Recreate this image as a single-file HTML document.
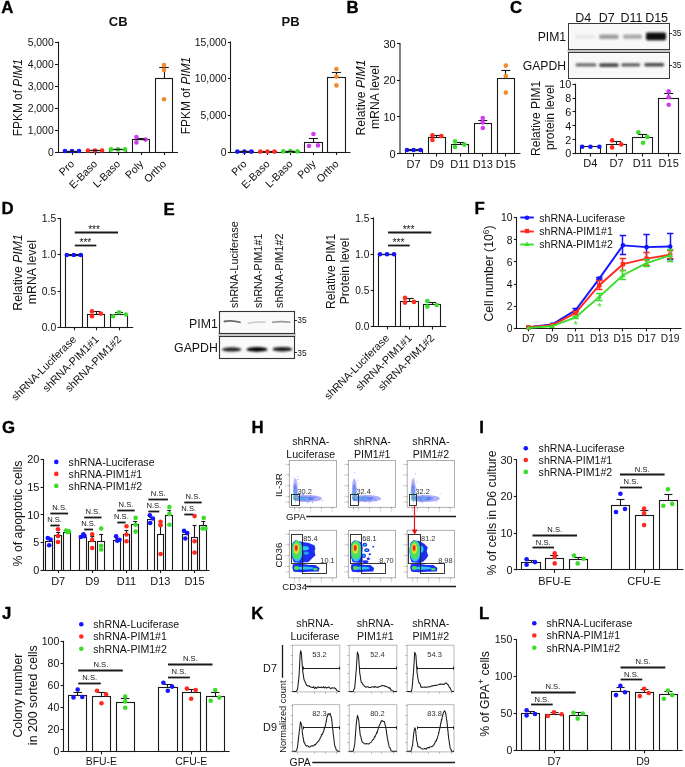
<!DOCTYPE html>
<html><head><meta charset="utf-8"><style>
html,body{margin:0;padding:0;background:#fff;}
body{width:685px;height:767px;overflow:hidden;}
svg{display:block;font-family:"Liberation Sans",sans-serif;will-change:transform;}
</style></head><body>
<svg width="685" height="767" viewBox="0 0 685 767" font-family="Liberation Sans, sans-serif" fill="#121212">
<defs>
<filter id="bl1" x="-50%" y="-50%" width="200%" height="200%"><feGaussianBlur stdDeviation="0.9"/></filter>
<filter id="bl2" x="-50%" y="-50%" width="200%" height="200%"><feGaussianBlur stdDeviation="1.4"/></filter>
<filter id="bl3" x="-50%" y="-50%" width="200%" height="200%"><feGaussianBlur stdDeviation="0.6"/></filter>
</defs>
<rect width="685" height="767" fill="#fff"/>
<text x="1.3" y="12.6" font-size="16.8" font-weight="bold" fill="#000" stroke="#000" stroke-width="0.35">A</text>
<text x="118.2" y="25.8" font-size="13" text-anchor="middle" font-weight="bold">CB</text>
<line x1="58.5" y1="41.5" x2="58.5" y2="152.5" stroke="#1a1a1a" stroke-width="1.1"/>
<line x1="55" y1="42.5" x2="58" y2="42.5" stroke="#1a1a1a" stroke-width="1.1"/>
<text x="53.7" y="45.74" font-size="10.4" text-anchor="end">5,000</text>
<line x1="55" y1="64.5" x2="58" y2="64.5" stroke="#1a1a1a" stroke-width="1.1"/>
<text x="53.7" y="67.74" font-size="10.4" text-anchor="end">4,000</text>
<line x1="55" y1="86.5" x2="58" y2="86.5" stroke="#1a1a1a" stroke-width="1.1"/>
<text x="53.7" y="89.74" font-size="10.4" text-anchor="end">3,000</text>
<line x1="55" y1="108.5" x2="58" y2="108.5" stroke="#1a1a1a" stroke-width="1.1"/>
<text x="53.7" y="111.74" font-size="10.4" text-anchor="end">2,000</text>
<line x1="55" y1="130.5" x2="58" y2="130.5" stroke="#1a1a1a" stroke-width="1.1"/>
<text x="53.7" y="133.74" font-size="10.4" text-anchor="end">1,000</text>
<line x1="55" y1="152.5" x2="58" y2="152.5" stroke="#1a1a1a" stroke-width="1.1"/>
<text x="53.7" y="155.74" font-size="10.4" text-anchor="end">0</text>
<line x1="57.5" y1="152.5" x2="178" y2="152.5" stroke="#1a1a1a" stroke-width="1.1"/>
<line x1="72.5" y1="152" x2="72.5" y2="155" stroke="#1a1a1a" stroke-width="1.1"/>
<line x1="95.5" y1="152" x2="95.5" y2="155" stroke="#1a1a1a" stroke-width="1.1"/>
<line x1="118.5" y1="152" x2="118.5" y2="155" stroke="#1a1a1a" stroke-width="1.1"/>
<line x1="141.5" y1="152" x2="141.5" y2="155" stroke="#1a1a1a" stroke-width="1.1"/>
<line x1="164.5" y1="152" x2="164.5" y2="155" stroke="#1a1a1a" stroke-width="1.1"/>
<text x="22.4" y="97.6" font-size="11.9" text-anchor="middle" transform="rotate(-90 22.4 97.6)">FPKM of <tspan font-style="italic">PIM1</tspan></text>
<rect x="63.5" y="151.5" width="17" height="1" fill="#fff" stroke="#1a1a1a" stroke-width="1.1"/>
<rect x="86.5" y="150.5" width="17" height="2" fill="#fff" stroke="#1a1a1a" stroke-width="1.1"/>
<rect x="109.5" y="149.5" width="17" height="3" fill="#fff" stroke="#1a1a1a" stroke-width="1.1"/>
<rect x="132.5" y="139.5" width="17" height="13" fill="#fff" stroke="#1a1a1a" stroke-width="1.1"/>
<rect x="155.5" y="78.5" width="17" height="74" fill="#fff" stroke="#1a1a1a" stroke-width="1.1"/>
<line x1="164.5" y1="78.6" x2="164.5" y2="67.4" stroke="#1a1a1a" stroke-width="1.1"/>
<line x1="159.25" y1="67.5" x2="168.75" y2="67.5" stroke="#1a1a1a" stroke-width="1.1"/>
<line x1="141.5" y1="139.6" x2="141.5" y2="138" stroke="#1a1a1a" stroke-width="1.1"/>
<line x1="136.5" y1="138.5" x2="145.5" y2="138.5" stroke="#1a1a1a" stroke-width="1.1"/>
<circle cx="65" cy="151" r="2.3" fill="#1414ff"/>
<circle cx="72" cy="151" r="2.3" fill="#1414ff"/>
<circle cx="79" cy="151" r="2.3" fill="#1414ff"/>
<circle cx="88" cy="150.5" r="2.3" fill="#ff2a1f"/>
<circle cx="95" cy="150.5" r="2.3" fill="#ff2a1f"/>
<circle cx="102" cy="150.5" r="2.3" fill="#ff2a1f"/>
<circle cx="111" cy="149.4" r="2.3" fill="#3cdc2c"/>
<circle cx="118" cy="149.4" r="2.3" fill="#3cdc2c"/>
<circle cx="125" cy="149.4" r="2.3" fill="#3cdc2c"/>
<circle cx="136.4" cy="137" r="2.3" fill="#d23cf0"/>
<circle cx="136.4" cy="142.4" r="2.3" fill="#d23cf0"/>
<circle cx="145.6" cy="139.6" r="2.3" fill="#d23cf0"/>
<circle cx="164" cy="65.1" r="2.3" fill="#f2892a"/>
<circle cx="164" cy="69.9" r="2.3" fill="#f2892a"/>
<circle cx="164" cy="99.3" r="2.3" fill="#f2892a"/>
<line x1="67.5" y1="151.5" x2="76.5" y2="151.5" stroke="#1a1a1a" stroke-width="1.3"/>
<line x1="90.5" y1="150.5" x2="99.5" y2="150.5" stroke="#1a1a1a" stroke-width="1.3"/>
<line x1="113.5" y1="149.5" x2="122.5" y2="149.5" stroke="#1a1a1a" stroke-width="1.3"/>
<line x1="136.5" y1="139.5" x2="145.5" y2="139.5" stroke="#1a1a1a" stroke-width="1.3"/>
<text x="75" y="164.6" font-size="10.6" text-anchor="end" transform="rotate(-45 75 164.6)">Pro</text>
<text x="98" y="164.6" font-size="10.6" text-anchor="end" transform="rotate(-45 98 164.6)">E-Baso</text>
<text x="121" y="164.6" font-size="10.6" text-anchor="end" transform="rotate(-45 121 164.6)">L-Baso</text>
<text x="144" y="164.6" font-size="10.6" text-anchor="end" transform="rotate(-45 144 164.6)">Poly</text>
<text x="167" y="164.6" font-size="10.6" text-anchor="end" transform="rotate(-45 167 164.6)">Ortho</text>
<text x="290.5" y="26.4" font-size="13" text-anchor="middle" font-weight="bold">PB</text>
<line x1="230.5" y1="41.5" x2="230.5" y2="152.5" stroke="#1a1a1a" stroke-width="1.1"/>
<line x1="227.9" y1="42.5" x2="230.9" y2="42.5" stroke="#1a1a1a" stroke-width="1.1"/>
<text x="226.6" y="45.74" font-size="10.4" text-anchor="end">15,000</text>
<line x1="227.9" y1="78.5" x2="230.9" y2="78.5" stroke="#1a1a1a" stroke-width="1.1"/>
<text x="226.6" y="82.41" font-size="10.4" text-anchor="end">10,000</text>
<line x1="227.9" y1="115.5" x2="230.9" y2="115.5" stroke="#1a1a1a" stroke-width="1.1"/>
<text x="226.6" y="119.07" font-size="10.4" text-anchor="end">5,000</text>
<line x1="227.9" y1="152.5" x2="230.9" y2="152.5" stroke="#1a1a1a" stroke-width="1.1"/>
<text x="226.6" y="155.74" font-size="10.4" text-anchor="end">0</text>
<line x1="230.4" y1="152.5" x2="350.5" y2="152.5" stroke="#1a1a1a" stroke-width="1.1"/>
<line x1="244.5" y1="152" x2="244.5" y2="155" stroke="#1a1a1a" stroke-width="1.1"/>
<line x1="267.5" y1="152" x2="267.5" y2="155" stroke="#1a1a1a" stroke-width="1.1"/>
<line x1="290.5" y1="152" x2="290.5" y2="155" stroke="#1a1a1a" stroke-width="1.1"/>
<line x1="313.5" y1="152" x2="313.5" y2="155" stroke="#1a1a1a" stroke-width="1.1"/>
<line x1="336.5" y1="152" x2="336.5" y2="155" stroke="#1a1a1a" stroke-width="1.1"/>
<text x="189.9" y="95.5" font-size="11.9" text-anchor="middle" transform="rotate(-90 189.9 95.5)">FPKM of <tspan font-style="italic">PIM1</tspan></text>
<rect x="235.5" y="151.5" width="18" height="1" fill="#fff" stroke="#1a1a1a" stroke-width="1.1"/>
<rect x="258.5" y="151.5" width="18" height="1" fill="#fff" stroke="#1a1a1a" stroke-width="1.1"/>
<rect x="281.5" y="151.5" width="18" height="1" fill="#fff" stroke="#1a1a1a" stroke-width="1.1"/>
<rect x="304.5" y="142.5" width="18" height="10" fill="#fff" stroke="#1a1a1a" stroke-width="1.1"/>
<rect x="327.5" y="77.5" width="18" height="75" fill="#fff" stroke="#1a1a1a" stroke-width="1.1"/>
<line x1="313.5" y1="142.4" x2="313.5" y2="138" stroke="#1a1a1a" stroke-width="1.1"/>
<line x1="308.9" y1="138.5" x2="317.9" y2="138.5" stroke="#1a1a1a" stroke-width="1.1"/>
<line x1="336.5" y1="77.4" x2="336.5" y2="72.2" stroke="#1a1a1a" stroke-width="1.1"/>
<line x1="331.9" y1="72.5" x2="340.9" y2="72.5" stroke="#1a1a1a" stroke-width="1.1"/>
<circle cx="237.4" cy="151.6" r="2.3" fill="#1414ff"/>
<circle cx="244.4" cy="151.6" r="2.3" fill="#1414ff"/>
<circle cx="251.4" cy="151.6" r="2.3" fill="#1414ff"/>
<circle cx="260.4" cy="151.6" r="2.3" fill="#ff2a1f"/>
<circle cx="267.4" cy="151.6" r="2.3" fill="#ff2a1f"/>
<circle cx="274.4" cy="151.6" r="2.3" fill="#ff2a1f"/>
<circle cx="283.4" cy="151.4" r="2.3" fill="#3cdc2c"/>
<circle cx="290.4" cy="151" r="2.3" fill="#3cdc2c"/>
<circle cx="297.4" cy="151.4" r="2.3" fill="#3cdc2c"/>
<circle cx="309" cy="146" r="2.3" fill="#d23cf0"/>
<circle cx="313.4" cy="134" r="2.3" fill="#d23cf0"/>
<circle cx="318" cy="145.4" r="2.3" fill="#d23cf0"/>
<circle cx="336.4" cy="69" r="2.3" fill="#f2892a"/>
<circle cx="336.4" cy="76.6" r="2.3" fill="#f2892a"/>
<circle cx="336.4" cy="85.4" r="2.3" fill="#f2892a"/>
<line x1="239.9" y1="151.5" x2="248.9" y2="151.5" stroke="#1a1a1a" stroke-width="1.3"/>
<line x1="285.9" y1="151.5" x2="294.9" y2="151.5" stroke="#1a1a1a" stroke-width="1.3"/>
<text x="247.4" y="164.6" font-size="10.6" text-anchor="end" transform="rotate(-45 247.4 164.6)">Pro</text>
<text x="270.4" y="164.6" font-size="10.6" text-anchor="end" transform="rotate(-45 270.4 164.6)">E-Baso</text>
<text x="293.4" y="164.6" font-size="10.6" text-anchor="end" transform="rotate(-45 293.4 164.6)">L-Baso</text>
<text x="316.4" y="164.6" font-size="10.6" text-anchor="end" transform="rotate(-45 316.4 164.6)">Poly</text>
<text x="339.4" y="164.6" font-size="10.6" text-anchor="end" transform="rotate(-45 339.4 164.6)">Ortho</text>
<text x="346.6" y="12.6" font-size="16.8" font-weight="bold" fill="#000" stroke="#000" stroke-width="0.35">B</text>
<line x1="400" y1="43.1" x2="400" y2="154.1" stroke="#1a1a1a" stroke-width="1.1"/>
<line x1="397" y1="43.5" x2="400" y2="43.5" stroke="#1a1a1a" stroke-width="1.1"/>
<text x="395.7" y="47.56" font-size="11" text-anchor="end">30</text>
<line x1="397" y1="80.5" x2="400" y2="80.5" stroke="#1a1a1a" stroke-width="1.1"/>
<text x="395.7" y="84.23" font-size="11" text-anchor="end">20</text>
<line x1="397" y1="116.5" x2="400" y2="116.5" stroke="#1a1a1a" stroke-width="1.1"/>
<text x="395.7" y="120.89" font-size="11" text-anchor="end">10</text>
<line x1="397" y1="153.5" x2="400" y2="153.5" stroke="#1a1a1a" stroke-width="1.1"/>
<text x="395.7" y="157.56" font-size="11" text-anchor="end">0</text>
<line x1="399.5" y1="153.5" x2="520.5" y2="153.5" stroke="#1a1a1a" stroke-width="1.1"/>
<line x1="413.5" y1="153.6" x2="413.5" y2="156.6" stroke="#1a1a1a" stroke-width="1.1"/>
<line x1="436.5" y1="153.6" x2="436.5" y2="156.6" stroke="#1a1a1a" stroke-width="1.1"/>
<line x1="460.5" y1="153.6" x2="460.5" y2="156.6" stroke="#1a1a1a" stroke-width="1.1"/>
<line x1="482.5" y1="153.6" x2="482.5" y2="156.6" stroke="#1a1a1a" stroke-width="1.1"/>
<line x1="505.5" y1="153.6" x2="505.5" y2="156.6" stroke="#1a1a1a" stroke-width="1.1"/>
<text x="365.3" y="97.6" font-size="12.2" text-anchor="middle" transform="rotate(-90 365.3 97.6)">Relative <tspan font-style="italic">PIM1</tspan></text>
<text x="379.1" y="97.2" font-size="12.2" text-anchor="middle" transform="rotate(-90 379.1 97.2)">mRNA level</text>
<rect x="405.5" y="149.5" width="17" height="4" fill="#fff" stroke="#1a1a1a" stroke-width="1.1"/>
<rect x="428.5" y="137.5" width="17" height="16" fill="#fff" stroke="#1a1a1a" stroke-width="1.1"/>
<line x1="436.5" y1="137.47" x2="436.5" y2="136" stroke="#1a1a1a" stroke-width="1.1"/>
<line x1="432.3" y1="135.5" x2="441.3" y2="135.5" stroke="#1a1a1a" stroke-width="1.1"/>
<rect x="451.5" y="144.5" width="17" height="9" fill="#fff" stroke="#1a1a1a" stroke-width="1.1"/>
<line x1="460.5" y1="144.8" x2="460.5" y2="142.78" stroke="#1a1a1a" stroke-width="1.1"/>
<line x1="455.5" y1="142.5" x2="464.5" y2="142.5" stroke="#1a1a1a" stroke-width="1.1"/>
<rect x="474.5" y="123.5" width="17" height="30" fill="#fff" stroke="#1a1a1a" stroke-width="1.1"/>
<line x1="482.5" y1="123.9" x2="482.5" y2="120.78" stroke="#1a1a1a" stroke-width="1.1"/>
<line x1="478.3" y1="120.5" x2="487.3" y2="120.5" stroke="#1a1a1a" stroke-width="1.1"/>
<rect x="497.5" y="78.5" width="17" height="75" fill="#fff" stroke="#1a1a1a" stroke-width="1.1"/>
<line x1="505.5" y1="78.8" x2="505.5" y2="70.55" stroke="#1a1a1a" stroke-width="1.1"/>
<line x1="501.3" y1="70.5" x2="510.3" y2="70.5" stroke="#1a1a1a" stroke-width="1.1"/>
<line x1="408.6" y1="150.5" x2="418.6" y2="150.5" stroke="#1a1a1a" stroke-width="1.3"/>
<circle cx="407" cy="150" r="2.3" fill="#1414ff"/>
<circle cx="413.6" cy="150" r="2.3" fill="#1414ff"/>
<circle cx="420.4" cy="150" r="2.3" fill="#1414ff"/>
<circle cx="432.4" cy="135.4" r="2.3" fill="#ff2a1f"/>
<circle cx="432.4" cy="140" r="2.3" fill="#ff2a1f"/>
<circle cx="441.4" cy="136" r="2.3" fill="#ff2a1f"/>
<circle cx="455" cy="141.4" r="2.3" fill="#3cdc2c"/>
<circle cx="455" cy="147" r="2.3" fill="#3cdc2c"/>
<circle cx="464.4" cy="144.6" r="2.3" fill="#3cdc2c"/>
<circle cx="482.8" cy="118" r="2.3" fill="#d23cf0"/>
<circle cx="482.8" cy="122.4" r="2.3" fill="#d23cf0"/>
<circle cx="482.8" cy="128" r="2.3" fill="#d23cf0"/>
<circle cx="505.8" cy="65.6" r="2.3" fill="#f2892a"/>
<circle cx="505.8" cy="76" r="2.3" fill="#f2892a"/>
<circle cx="505.8" cy="92.6" r="2.3" fill="#f2892a"/>
<text x="413.6" y="168" font-size="11" text-anchor="middle">D7</text>
<text x="436.8" y="168" font-size="11" text-anchor="middle">D9</text>
<text x="460" y="168" font-size="11" text-anchor="middle">D11</text>
<text x="482.8" y="168" font-size="11" text-anchor="middle">D13</text>
<text x="505.8" y="168" font-size="11" text-anchor="middle">D15</text>
<text x="510.1" y="13" font-size="16.8" font-weight="bold" fill="#000" stroke="#000" stroke-width="0.35">C</text>
<text x="583.2" y="21.8" font-size="12.5" text-anchor="middle">D4</text>
<text x="606.7" y="21.8" font-size="12.5" text-anchor="middle">D7</text>
<text x="631.5" y="21.8" font-size="12.5" text-anchor="middle">D11</text>
<text x="656.6" y="21.8" font-size="12.5" text-anchor="middle">D15</text>
<text x="566.1" y="40.8" font-size="12.2" text-anchor="end">PIM1</text>
<text x="566.1" y="69.6" font-size="12.2" text-anchor="end">GAPDH</text>
<rect x="567.5" y="49.5" width="103" height="3.2" fill="#c4c4c4"/>
<rect x="568.5" y="23.5" width="101" height="26" fill="#f8f8f8" stroke="#3a3a3a" stroke-width="1"/>
<rect x="568.5" y="52.5" width="101" height="26" fill="#f8f8f8" stroke="#3a3a3a" stroke-width="1"/>
<g filter="url(#bl1)">
<rect x="575" y="35.2" width="20" height="3.4" rx="1.6" fill="#e6e6e6"/>
<rect x="599.2" y="34.4" width="19.4" height="4.6" rx="1.6" fill="#9e9e9e"/>
<rect x="623" y="34.6" width="19" height="4.2" rx="1.6" fill="#a8a8a8"/>
<rect x="646" y="32.6" width="20" height="7.6" rx="1.6" fill="#0e0e0e"/>
<rect x="575.5" y="63.3" width="21" height="3.2" rx="1.6" fill="#6c6c6c"/>
<rect x="599.2" y="63.2" width="19.4" height="3.8" rx="1.6" fill="#484848"/>
<rect x="621.2" y="63.3" width="19" height="3.2" rx="1.6" fill="#5e5e5e"/>
<rect x="644.2" y="62.9" width="20" height="3.5" rx="1.6" fill="#4c4c4c"/>
</g>
<line x1="669.5" y1="33.5" x2="672" y2="33.5" stroke="#1a1a1a" stroke-width="0.9"/>
<text x="672.2" y="36.1" font-size="8.4">35</text>
<line x1="669.5" y1="65.5" x2="672" y2="65.5" stroke="#1a1a1a" stroke-width="0.9"/>
<text x="672.2" y="68.3" font-size="8.4">35</text>
<line x1="575.5" y1="83.7" x2="575.5" y2="154.1" stroke="#1a1a1a" stroke-width="1.1"/>
<line x1="572.5" y1="84.5" x2="575.5" y2="84.5" stroke="#1a1a1a" stroke-width="1.1"/>
<text x="571.2" y="88.09" font-size="10.8" text-anchor="end">10</text>
<line x1="572.5" y1="98.5" x2="575.5" y2="98.5" stroke="#1a1a1a" stroke-width="1.1"/>
<text x="571.2" y="101.97" font-size="10.8" text-anchor="end">8</text>
<line x1="572.5" y1="111.5" x2="575.5" y2="111.5" stroke="#1a1a1a" stroke-width="1.1"/>
<text x="571.2" y="115.85" font-size="10.8" text-anchor="end">6</text>
<line x1="572.5" y1="125.5" x2="575.5" y2="125.5" stroke="#1a1a1a" stroke-width="1.1"/>
<text x="571.2" y="129.73" font-size="10.8" text-anchor="end">4</text>
<line x1="572.5" y1="139.5" x2="575.5" y2="139.5" stroke="#1a1a1a" stroke-width="1.1"/>
<text x="571.2" y="143.61" font-size="10.8" text-anchor="end">2</text>
<line x1="572.5" y1="153.5" x2="575.5" y2="153.5" stroke="#1a1a1a" stroke-width="1.1"/>
<text x="571.2" y="157.49" font-size="10.8" text-anchor="end">0</text>
<line x1="575" y1="153.5" x2="681" y2="153.5" stroke="#1a1a1a" stroke-width="1.1"/>
<line x1="590.5" y1="153.6" x2="590.5" y2="156.6" stroke="#1a1a1a" stroke-width="1.1"/>
<line x1="616.5" y1="153.6" x2="616.5" y2="156.6" stroke="#1a1a1a" stroke-width="1.1"/>
<line x1="642.5" y1="153.6" x2="642.5" y2="156.6" stroke="#1a1a1a" stroke-width="1.1"/>
<line x1="668.5" y1="153.6" x2="668.5" y2="156.6" stroke="#1a1a1a" stroke-width="1.1"/>
<text x="539.6" y="118.4" font-size="12.1" text-anchor="middle" transform="rotate(-90 539.6 118.4)">Relative PIM1</text>
<text x="554" y="117.3" font-size="12.1" text-anchor="middle" transform="rotate(-90 554 117.3)">protein level</text>
<rect x="580.5" y="146.5" width="20" height="7" fill="#fff" stroke="#1a1a1a" stroke-width="1.1"/>
<rect x="606.5" y="144.5" width="20" height="9" fill="#fff" stroke="#1a1a1a" stroke-width="1.1"/>
<line x1="616.5" y1="144.23" x2="616.5" y2="141.8" stroke="#1a1a1a" stroke-width="1.1"/>
<line x1="612.1" y1="141.5" x2="621.1" y2="141.5" stroke="#1a1a1a" stroke-width="1.1"/>
<rect x="632.5" y="137.5" width="20" height="16" fill="#fff" stroke="#1a1a1a" stroke-width="1.1"/>
<line x1="642.5" y1="137.64" x2="642.5" y2="134.86" stroke="#1a1a1a" stroke-width="1.1"/>
<line x1="638" y1="134.5" x2="647" y2="134.5" stroke="#1a1a1a" stroke-width="1.1"/>
<rect x="658.5" y="98.5" width="20" height="55" fill="#fff" stroke="#1a1a1a" stroke-width="1.1"/>
<line x1="668.5" y1="98.08" x2="668.5" y2="93.57" stroke="#1a1a1a" stroke-width="1.1"/>
<line x1="664.2" y1="93.5" x2="673.2" y2="93.5" stroke="#1a1a1a" stroke-width="1.1"/>
<circle cx="582.2" cy="146.7" r="2.3" fill="#1414ff"/>
<circle cx="590.4" cy="146.7" r="2.3" fill="#1414ff"/>
<circle cx="599.3" cy="146.7" r="2.3" fill="#1414ff"/>
<circle cx="612.1" cy="140.4" r="2.3" fill="#ff2a1f"/>
<circle cx="612.1" cy="147.4" r="2.3" fill="#ff2a1f"/>
<circle cx="621.2" cy="144.4" r="2.3" fill="#ff2a1f"/>
<circle cx="638.3" cy="132.2" r="2.3" fill="#3cdc2c"/>
<circle cx="643" cy="142.7" r="2.3" fill="#3cdc2c"/>
<circle cx="647.2" cy="136.9" r="2.3" fill="#3cdc2c"/>
<circle cx="668.7" cy="91.4" r="2.3" fill="#d23cf0"/>
<circle cx="668.7" cy="97.2" r="2.3" fill="#d23cf0"/>
<circle cx="668.7" cy="104.7" r="2.3" fill="#d23cf0"/>
<text x="590.4" y="166.8" font-size="11" text-anchor="middle">D4</text>
<text x="616.6" y="166.8" font-size="11" text-anchor="middle">D7</text>
<text x="642.5" y="166.8" font-size="11" text-anchor="middle">D11</text>
<text x="668.7" y="166.8" font-size="11" text-anchor="middle">D15</text>
<text x="1.6" y="214.4" font-size="16.8" font-weight="bold" fill="#000" stroke="#000" stroke-width="0.35">D</text>
<line x1="60.5" y1="218" x2="60.5" y2="327.8" stroke="#1a1a1a" stroke-width="1.1"/>
<line x1="57.5" y1="218.5" x2="60.5" y2="218.5" stroke="#1a1a1a" stroke-width="1.1"/>
<text x="56.2" y="222.21" font-size="10.3" text-anchor="end">1.5</text>
<line x1="57.5" y1="254.5" x2="60.5" y2="254.5" stroke="#1a1a1a" stroke-width="1.1"/>
<text x="56.2" y="258.48" font-size="10.3" text-anchor="end">1.0</text>
<line x1="57.5" y1="291.5" x2="60.5" y2="291.5" stroke="#1a1a1a" stroke-width="1.1"/>
<text x="56.2" y="294.74" font-size="10.3" text-anchor="end">0.5</text>
<line x1="57.5" y1="327.5" x2="60.5" y2="327.5" stroke="#1a1a1a" stroke-width="1.1"/>
<text x="56.2" y="331.01" font-size="10.3" text-anchor="end">0.0</text>
<line x1="60" y1="327.5" x2="133.2" y2="327.5" stroke="#1a1a1a" stroke-width="1.1"/>
<line x1="74.5" y1="327.3" x2="74.5" y2="330.3" stroke="#1a1a1a" stroke-width="1.1"/>
<line x1="96.5" y1="327.3" x2="96.5" y2="330.3" stroke="#1a1a1a" stroke-width="1.1"/>
<line x1="119.5" y1="327.3" x2="119.5" y2="330.3" stroke="#1a1a1a" stroke-width="1.1"/>
<text x="22.2" y="272.4" font-size="12.3" text-anchor="middle" transform="rotate(-90 22.2 272.4)">Relative <tspan font-style="italic">PIM1</tspan></text>
<text x="36.1" y="272.1" font-size="12.3" text-anchor="middle" transform="rotate(-90 36.1 272.1)">mRNA level</text>
<rect x="65.5" y="254.5" width="17" height="73" fill="#fff" stroke="#1a1a1a" stroke-width="1.1"/>
<rect x="87.5" y="314.5" width="17" height="13" fill="#fff" stroke="#1a1a1a" stroke-width="1.1"/>
<rect x="110.5" y="314.5" width="17" height="13" fill="#fff" stroke="#1a1a1a" stroke-width="1.1"/>
<line x1="96.5" y1="314.1" x2="96.5" y2="311.4" stroke="#1a1a1a" stroke-width="1.1"/>
<line x1="92.1" y1="311.5" x2="100.1" y2="311.5" stroke="#1a1a1a" stroke-width="1.1"/>
<line x1="119.5" y1="314.7" x2="119.5" y2="312.6" stroke="#1a1a1a" stroke-width="1.1"/>
<line x1="115" y1="312.5" x2="123" y2="312.5" stroke="#1a1a1a" stroke-width="1.1"/>
<line x1="69" y1="255.5" x2="79" y2="255.5" stroke="#1a1a1a" stroke-width="1.3"/>
<circle cx="66.8" cy="255" r="2.3" fill="#1414ff"/>
<circle cx="73.8" cy="255" r="2.3" fill="#1414ff"/>
<circle cx="80.7" cy="255" r="2.3" fill="#1414ff"/>
<circle cx="92" cy="311.4" r="2.3" fill="#ff2a1f"/>
<circle cx="92" cy="316.3" r="2.3" fill="#ff2a1f"/>
<circle cx="100.8" cy="313.6" r="2.3" fill="#ff2a1f"/>
<circle cx="113" cy="316.3" r="2.3" fill="#3cdc2c"/>
<circle cx="119" cy="312.3" r="2.3" fill="#3cdc2c"/>
<circle cx="125.9" cy="314.5" r="2.3" fill="#3cdc2c"/>
<line x1="74.8" y1="245.5" x2="96.3" y2="245.5" stroke="#1a1a1a" stroke-width="1.8"/>
<line x1="74.8" y1="232.5" x2="118" y2="232.5" stroke="#1a1a1a" stroke-width="1.8"/>
<text x="85.4" y="246.3" font-size="10.2" text-anchor="middle">***</text>
<text x="94.1" y="232.8" font-size="10.2" text-anchor="middle">***</text>
<text x="77" y="340" font-size="10.7" text-anchor="end" transform="rotate(-45 77 340)">shRNA-Luciferase</text>
<text x="99.4" y="340" font-size="10.7" text-anchor="end" transform="rotate(-45 99.4 340)">shRNA-PIM1#1</text>
<text x="122" y="340" font-size="10.7" text-anchor="end" transform="rotate(-45 122 340)">shRNA-PIM1#2</text>
<text x="163.6" y="214.8" font-size="16.8" font-weight="bold" fill="#000" stroke="#000" stroke-width="0.35">E</text>
<text x="238.2" y="307.9" font-size="10.7" transform="rotate(-90 238.2 307.9)">shRNA-Luciferase</text>
<text x="261.8" y="307.9" font-size="10.7" transform="rotate(-90 261.8 307.9)">shRNA-PIM1#1</text>
<text x="283.4" y="307.9" font-size="10.7" transform="rotate(-90 283.4 307.9)">shRNA-PIM1#2</text>
<text x="217.8" y="328.4" font-size="12.3" text-anchor="end">PIM1</text>
<text x="217.8" y="352" font-size="12.3" text-anchor="end">GAPDH</text>
<rect x="218" y="332.8" width="78" height="4" fill="#d0d0d0"/>
<rect x="219.5" y="311.5" width="75" height="22" fill="#fafafa" stroke="#333" stroke-width="1.1"/>
<rect x="219.5" y="336.5" width="75" height="22" fill="#fafafa" stroke="#333" stroke-width="1.1"/>
<g filter="url(#bl3)">
<path d="M223.8 320.6 Q232 318.8 240.7 321.6 L240.7 323.3 Q232 320.6 223.8 322.4 Z" fill="#6a6a6a"/>
<path d="M247.6 322.6 Q256 320.8 266 321.4 L266 322.8 Q256 322.2 247.6 324 Z" fill="#c8c8c8"/>
<path d="M272 321.4 Q281 320.2 290.5 321.4 L290.5 323 Q281 321.8 272 323 Z" fill="#9c9c9c"/>
</g>
<g filter="url(#bl1)">
<ellipse cx="231.7" cy="349.4" rx="9.8" ry="2.1" fill="#222"/>
<ellipse cx="257" cy="349.4" rx="10.6" ry="2.4" fill="#050505"/>
<ellipse cx="282.4" cy="349.2" rx="9.8" ry="2.3" fill="#151515"/>
</g>
<line x1="294.3" y1="320.5" x2="297" y2="320.5" stroke="#1a1a1a" stroke-width="0.9"/>
<text x="297.3" y="323.2" font-size="8.4">35</text>
<line x1="294.3" y1="352.5" x2="297" y2="352.5" stroke="#1a1a1a" stroke-width="0.9"/>
<text x="297.3" y="355.5" font-size="8.4">35</text>
<line x1="373.5" y1="217.5" x2="373.5" y2="327" stroke="#1a1a1a" stroke-width="1.1"/>
<line x1="370.6" y1="218.5" x2="373.6" y2="218.5" stroke="#1a1a1a" stroke-width="1.1"/>
<text x="369.3" y="221.64" font-size="10.1" text-anchor="end">1.5</text>
<line x1="370.6" y1="254.5" x2="373.6" y2="254.5" stroke="#1a1a1a" stroke-width="1.1"/>
<text x="369.3" y="257.81" font-size="10.1" text-anchor="end">1.0</text>
<line x1="370.6" y1="290.5" x2="373.6" y2="290.5" stroke="#1a1a1a" stroke-width="1.1"/>
<text x="369.3" y="293.97" font-size="10.1" text-anchor="end">0.5</text>
<line x1="370.6" y1="326.5" x2="373.6" y2="326.5" stroke="#1a1a1a" stroke-width="1.1"/>
<text x="369.3" y="330.14" font-size="10.1" text-anchor="end">0.0</text>
<line x1="373.1" y1="326.5" x2="446.2" y2="326.5" stroke="#1a1a1a" stroke-width="1.1"/>
<line x1="387.5" y1="326.5" x2="387.5" y2="329.5" stroke="#1a1a1a" stroke-width="1.1"/>
<line x1="409.5" y1="326.5" x2="409.5" y2="329.5" stroke="#1a1a1a" stroke-width="1.1"/>
<line x1="432.5" y1="326.5" x2="432.5" y2="329.5" stroke="#1a1a1a" stroke-width="1.1"/>
<text x="334.9" y="271.3" font-size="12.1" text-anchor="middle" transform="rotate(-90 334.9 271.3)">Relative PIM1</text>
<text x="348.8" y="271" font-size="12.1" text-anchor="middle" transform="rotate(-90 348.8 271)">Protein level</text>
<rect x="378.5" y="254.5" width="17" height="72" fill="#fff" stroke="#1a1a1a" stroke-width="1.1"/>
<rect x="400.5" y="301.5" width="18" height="25" fill="#fff" stroke="#1a1a1a" stroke-width="1.1"/>
<rect x="423.5" y="304.5" width="17" height="22" fill="#fff" stroke="#1a1a1a" stroke-width="1.1"/>
<line x1="409.5" y1="301" x2="409.5" y2="298.6" stroke="#1a1a1a" stroke-width="1.1"/>
<line x1="405.6" y1="298.5" x2="413.6" y2="298.5" stroke="#1a1a1a" stroke-width="1.1"/>
<line x1="432.5" y1="304.3" x2="432.5" y2="302" stroke="#1a1a1a" stroke-width="1.1"/>
<line x1="428" y1="302.5" x2="436" y2="302.5" stroke="#1a1a1a" stroke-width="1.1"/>
<line x1="382" y1="254.5" x2="392" y2="254.5" stroke="#1a1a1a" stroke-width="1.3"/>
<circle cx="380" cy="254.2" r="2.3" fill="#1414ff"/>
<circle cx="387" cy="254.2" r="2.3" fill="#1414ff"/>
<circle cx="394" cy="254.2" r="2.3" fill="#1414ff"/>
<circle cx="405" cy="297.9" r="2.3" fill="#ff2a1f"/>
<circle cx="405" cy="302.6" r="2.3" fill="#ff2a1f"/>
<circle cx="414" cy="301.9" r="2.3" fill="#ff2a1f"/>
<circle cx="427.3" cy="301" r="2.3" fill="#3cdc2c"/>
<circle cx="427.3" cy="306.6" r="2.3" fill="#3cdc2c"/>
<circle cx="436.7" cy="305" r="2.3" fill="#3cdc2c"/>
<line x1="388.1" y1="245.5" x2="409.7" y2="245.5" stroke="#1a1a1a" stroke-width="1.8"/>
<line x1="388.1" y1="232.5" x2="431.3" y2="232.5" stroke="#1a1a1a" stroke-width="1.8"/>
<text x="398.5" y="246" font-size="10.2" text-anchor="middle">***</text>
<text x="408.6" y="232.7" font-size="10.2" text-anchor="middle">***</text>
<text x="390" y="338.8" font-size="10.7" text-anchor="end" transform="rotate(-45 390 338.8)">shRNA-Luciferase</text>
<text x="412.5" y="338.8" font-size="10.7" text-anchor="end" transform="rotate(-45 412.5 338.8)">shRNA-PIM1#1</text>
<text x="435" y="338.8" font-size="10.7" text-anchor="end" transform="rotate(-45 435 338.8)">shRNA-PIM1#2</text>
<text x="474.6" y="214" font-size="16.8" font-weight="bold" fill="#000" stroke="#000" stroke-width="0.35">F</text>
<line x1="516.5" y1="217.2" x2="516.5" y2="328.9" stroke="#1a1a1a" stroke-width="1.1"/>
<line x1="513.9" y1="217.5" x2="516.9" y2="217.5" stroke="#1a1a1a" stroke-width="1.1"/>
<text x="512.6" y="221.44" font-size="10.4" text-anchor="end">10</text>
<line x1="513.9" y1="239.5" x2="516.9" y2="239.5" stroke="#1a1a1a" stroke-width="1.1"/>
<text x="512.6" y="243.58" font-size="10.4" text-anchor="end">8</text>
<line x1="513.9" y1="261.5" x2="516.9" y2="261.5" stroke="#1a1a1a" stroke-width="1.1"/>
<text x="512.6" y="265.72" font-size="10.4" text-anchor="end">6</text>
<line x1="513.9" y1="284.5" x2="516.9" y2="284.5" stroke="#1a1a1a" stroke-width="1.1"/>
<text x="512.6" y="287.86" font-size="10.4" text-anchor="end">4</text>
<line x1="513.9" y1="306.5" x2="516.9" y2="306.5" stroke="#1a1a1a" stroke-width="1.1"/>
<text x="512.6" y="310" font-size="10.4" text-anchor="end">2</text>
<line x1="513.9" y1="328.5" x2="516.9" y2="328.5" stroke="#1a1a1a" stroke-width="1.1"/>
<text x="512.6" y="332.14" font-size="10.4" text-anchor="end">0</text>
<line x1="516.4" y1="328.5" x2="681.5" y2="328.5" stroke="#1a1a1a" stroke-width="1.1"/>
<line x1="528.5" y1="328.4" x2="528.5" y2="331.4" stroke="#1a1a1a" stroke-width="1.1"/>
<line x1="552.5" y1="328.4" x2="552.5" y2="331.4" stroke="#1a1a1a" stroke-width="1.1"/>
<line x1="575.5" y1="328.4" x2="575.5" y2="331.4" stroke="#1a1a1a" stroke-width="1.1"/>
<line x1="599.5" y1="328.4" x2="599.5" y2="331.4" stroke="#1a1a1a" stroke-width="1.1"/>
<line x1="622.5" y1="328.4" x2="622.5" y2="331.4" stroke="#1a1a1a" stroke-width="1.1"/>
<line x1="646.5" y1="328.4" x2="646.5" y2="331.4" stroke="#1a1a1a" stroke-width="1.1"/>
<line x1="670.5" y1="328.4" x2="670.5" y2="331.4" stroke="#1a1a1a" stroke-width="1.1"/>
<text x="528.4" y="342.4" font-size="10.2" text-anchor="middle">D7</text>
<text x="552.03" y="342.4" font-size="10.2" text-anchor="middle">D9</text>
<text x="575.66" y="342.4" font-size="10.2" text-anchor="middle">D11</text>
<text x="599.29" y="342.4" font-size="10.2" text-anchor="middle">D13</text>
<text x="622.92" y="342.4" font-size="10.2" text-anchor="middle">D15</text>
<text x="646.55" y="342.4" font-size="10.2" text-anchor="middle">D17</text>
<text x="670.18" y="342.4" font-size="10.2" text-anchor="middle">D19</text>
<text x="493.3" y="273.5" font-size="12.3" text-anchor="middle" transform="rotate(-90 493.3 273.5)">Cell number (10<tspan font-size="8.3" dy="-4.5">6</tspan><tspan dy="4.5">)</tspan></text>
<polyline points="528.4,327.29 552.03,324.53 575.66,310.13 599.29,278.58 622.92,245.37 646.55,247.15 670.18,246.48" fill="none" stroke="#1414ff" stroke-width="1.9" stroke-linejoin="round"/>
<circle cx="528.4" cy="327.29" r="2.3" fill="#1414ff"/>
<circle cx="552.03" cy="324.53" r="2.3" fill="#1414ff"/>
<line x1="575.5" y1="308.81" x2="575.5" y2="311.46" stroke="#1414ff" stroke-width="1.5"/>
<line x1="572.46" y1="308.5" x2="578.86" y2="308.5" stroke="#1414ff" stroke-width="1.5"/>
<line x1="572.46" y1="311.5" x2="578.86" y2="311.5" stroke="#1414ff" stroke-width="1.5"/>
<circle cx="575.66" cy="310.13" r="2.3" fill="#1414ff"/>
<line x1="599.5" y1="277.26" x2="599.5" y2="279.91" stroke="#1414ff" stroke-width="1.5"/>
<line x1="596.09" y1="277.5" x2="602.49" y2="277.5" stroke="#1414ff" stroke-width="1.5"/>
<line x1="596.09" y1="279.5" x2="602.49" y2="279.5" stroke="#1414ff" stroke-width="1.5"/>
<circle cx="599.29" cy="278.58" r="2.3" fill="#1414ff"/>
<line x1="622.5" y1="235.85" x2="622.5" y2="254.9" stroke="#1414ff" stroke-width="1.5"/>
<line x1="619.72" y1="235.5" x2="626.12" y2="235.5" stroke="#1414ff" stroke-width="1.5"/>
<line x1="619.72" y1="254.5" x2="626.12" y2="254.5" stroke="#1414ff" stroke-width="1.5"/>
<circle cx="622.92" cy="245.37" r="2.3" fill="#1414ff"/>
<line x1="646.5" y1="234.97" x2="646.5" y2="259.32" stroke="#1414ff" stroke-width="1.5"/>
<line x1="643.35" y1="234.5" x2="649.75" y2="234.5" stroke="#1414ff" stroke-width="1.5"/>
<line x1="643.35" y1="259.5" x2="649.75" y2="259.5" stroke="#1414ff" stroke-width="1.5"/>
<circle cx="646.55" cy="247.15" r="2.3" fill="#1414ff"/>
<line x1="670.5" y1="233.2" x2="670.5" y2="259.77" stroke="#1414ff" stroke-width="1.5"/>
<line x1="666.98" y1="233.5" x2="673.38" y2="233.5" stroke="#1414ff" stroke-width="1.5"/>
<line x1="666.98" y1="259.5" x2="673.38" y2="259.5" stroke="#1414ff" stroke-width="1.5"/>
<circle cx="670.18" cy="246.48" r="2.3" fill="#1414ff"/>
<polyline points="528.4,327.29 552.03,325.3 575.66,312.9 599.29,285.23 622.92,264.19 646.55,258.66 670.18,254.78" fill="none" stroke="#ff2a1f" stroke-width="1.9" stroke-linejoin="round"/>
<rect x="526.2" y="325.09" width="4.4" height="4.4" fill="#ff2a1f"/>
<rect x="549.83" y="323.1" width="4.4" height="4.4" fill="#ff2a1f"/>
<line x1="575.5" y1="311.24" x2="575.5" y2="314.56" stroke="#ff2a1f" stroke-width="1.5"/>
<line x1="572.46" y1="311.5" x2="578.86" y2="311.5" stroke="#ff2a1f" stroke-width="1.5"/>
<line x1="572.46" y1="314.5" x2="578.86" y2="314.5" stroke="#ff2a1f" stroke-width="1.5"/>
<rect x="573.46" y="310.7" width="4.4" height="4.4" fill="#ff2a1f"/>
<line x1="599.5" y1="280.8" x2="599.5" y2="289.65" stroke="#ff2a1f" stroke-width="1.5"/>
<line x1="596.09" y1="280.5" x2="602.49" y2="280.5" stroke="#ff2a1f" stroke-width="1.5"/>
<line x1="596.09" y1="289.5" x2="602.49" y2="289.5" stroke="#ff2a1f" stroke-width="1.5"/>
<rect x="597.09" y="283.03" width="4.4" height="4.4" fill="#ff2a1f"/>
<line x1="622.5" y1="258.11" x2="622.5" y2="270.28" stroke="#ff2a1f" stroke-width="1.5"/>
<line x1="619.72" y1="258.5" x2="626.12" y2="258.5" stroke="#ff2a1f" stroke-width="1.5"/>
<line x1="619.72" y1="270.5" x2="626.12" y2="270.5" stroke="#ff2a1f" stroke-width="1.5"/>
<rect x="620.72" y="261.99" width="4.4" height="4.4" fill="#ff2a1f"/>
<line x1="646.5" y1="252.02" x2="646.5" y2="265.3" stroke="#ff2a1f" stroke-width="1.5"/>
<line x1="643.35" y1="252.5" x2="649.75" y2="252.5" stroke="#ff2a1f" stroke-width="1.5"/>
<line x1="643.35" y1="265.5" x2="649.75" y2="265.5" stroke="#ff2a1f" stroke-width="1.5"/>
<rect x="644.35" y="256.46" width="4.4" height="4.4" fill="#ff2a1f"/>
<line x1="670.5" y1="250.91" x2="670.5" y2="258.66" stroke="#ff2a1f" stroke-width="1.5"/>
<line x1="666.98" y1="250.5" x2="673.38" y2="250.5" stroke="#ff2a1f" stroke-width="1.5"/>
<line x1="666.98" y1="258.5" x2="673.38" y2="258.5" stroke="#ff2a1f" stroke-width="1.5"/>
<rect x="667.98" y="252.58" width="4.4" height="4.4" fill="#ff2a1f"/>
<polyline points="528.4,327.85 552.03,326.19 575.66,317.33 599.29,296.85 622.92,275.26 646.55,263.09 670.18,255.34" fill="none" stroke="#3cdc2c" stroke-width="1.9" stroke-linejoin="round"/>
<path d="M528.4 325.15l2.6 4.4h-5.2z" fill="#3cdc2c"/>
<path d="M552.03 323.49l2.6 4.4h-5.2z" fill="#3cdc2c"/>
<line x1="575.5" y1="316" x2="575.5" y2="318.66" stroke="#3cdc2c" stroke-width="1.5"/>
<line x1="572.46" y1="316.5" x2="578.86" y2="316.5" stroke="#3cdc2c" stroke-width="1.5"/>
<line x1="572.46" y1="318.5" x2="578.86" y2="318.5" stroke="#3cdc2c" stroke-width="1.5"/>
<path d="M575.66 314.63l2.6 4.4h-5.2z" fill="#3cdc2c"/>
<line x1="599.5" y1="293.53" x2="599.5" y2="300.17" stroke="#3cdc2c" stroke-width="1.5"/>
<line x1="596.09" y1="293.5" x2="602.49" y2="293.5" stroke="#3cdc2c" stroke-width="1.5"/>
<line x1="596.09" y1="300.5" x2="602.49" y2="300.5" stroke="#3cdc2c" stroke-width="1.5"/>
<path d="M599.29 294.15l2.6 4.4h-5.2z" fill="#3cdc2c"/>
<line x1="622.5" y1="270.84" x2="622.5" y2="279.69" stroke="#3cdc2c" stroke-width="1.5"/>
<line x1="619.72" y1="270.5" x2="626.12" y2="270.5" stroke="#3cdc2c" stroke-width="1.5"/>
<line x1="619.72" y1="279.5" x2="626.12" y2="279.5" stroke="#3cdc2c" stroke-width="1.5"/>
<path d="M622.92 272.56l2.6 4.4h-5.2z" fill="#3cdc2c"/>
<line x1="646.5" y1="259.77" x2="646.5" y2="266.41" stroke="#3cdc2c" stroke-width="1.5"/>
<line x1="643.35" y1="259.5" x2="649.75" y2="259.5" stroke="#3cdc2c" stroke-width="1.5"/>
<line x1="643.35" y1="266.5" x2="649.75" y2="266.5" stroke="#3cdc2c" stroke-width="1.5"/>
<path d="M646.55 260.39l2.6 4.4h-5.2z" fill="#3cdc2c"/>
<line x1="670.5" y1="249.25" x2="670.5" y2="261.43" stroke="#3cdc2c" stroke-width="1.5"/>
<line x1="666.98" y1="249.5" x2="673.38" y2="249.5" stroke="#3cdc2c" stroke-width="1.5"/>
<line x1="666.98" y1="261.5" x2="673.38" y2="261.5" stroke="#3cdc2c" stroke-width="1.5"/>
<path d="M670.18 252.64l2.6 4.4h-5.2z" fill="#3cdc2c"/>
<text x="575.66" y="328.6" font-size="11" text-anchor="middle" fill="#3cdc2c">*</text>
<text x="599.29" y="311.1" font-size="11" text-anchor="middle" fill="#3cdc2c">*</text>
<line x1="520.3" y1="217.5" x2="533.8" y2="217.5" stroke="#1414ff" stroke-width="1.9"/>
<circle cx="527" cy="217.8" r="2.3" fill="#1414ff"/>
<text x="539.2" y="221.6" font-size="10.6">shRNA-Luciferase</text>
<line x1="520.3" y1="231.5" x2="533.8" y2="231.5" stroke="#ff2a1f" stroke-width="1.9"/>
<rect x="524.8" y="228.8" width="4.4" height="4.4" fill="#ff2a1f"/>
<text x="539.2" y="234.8" font-size="10.6">shRNA-PIM1#1</text>
<line x1="520.3" y1="244.5" x2="533.8" y2="244.5" stroke="#3cdc2c" stroke-width="1.9"/>
<path d="M527 241.5l2.6 4.4h-5.2z" fill="#3cdc2c"/>
<text x="539.2" y="248" font-size="10.6">shRNA-PIM1#2</text>
<text x="1.9" y="433.4" font-size="16.8" font-weight="bold" fill="#000" stroke="#000" stroke-width="0.35">G</text>
<line x1="43.5" y1="459" x2="43.5" y2="570.6" stroke="#1a1a1a" stroke-width="1.1"/>
<line x1="40.6" y1="459.5" x2="43.6" y2="459.5" stroke="#1a1a1a" stroke-width="1.1"/>
<text x="39.3" y="463.42" font-size="10.9" text-anchor="end">20</text>
<line x1="40.6" y1="487.5" x2="43.6" y2="487.5" stroke="#1a1a1a" stroke-width="1.1"/>
<text x="39.3" y="491.07" font-size="10.9" text-anchor="end">15</text>
<line x1="40.6" y1="514.5" x2="43.6" y2="514.5" stroke="#1a1a1a" stroke-width="1.1"/>
<text x="39.3" y="518.72" font-size="10.9" text-anchor="end">10</text>
<line x1="40.6" y1="542.5" x2="43.6" y2="542.5" stroke="#1a1a1a" stroke-width="1.1"/>
<text x="39.3" y="546.37" font-size="10.9" text-anchor="end">5</text>
<line x1="40.6" y1="570.5" x2="43.6" y2="570.5" stroke="#1a1a1a" stroke-width="1.1"/>
<text x="39.3" y="574.02" font-size="10.9" text-anchor="end">0</text>
<line x1="43.1" y1="570.5" x2="209.5" y2="570.5" stroke="#1a1a1a" stroke-width="1.1"/>
<line x1="58.5" y1="570.1" x2="58.5" y2="573.1" stroke="#1a1a1a" stroke-width="1.1"/>
<line x1="92.5" y1="570.1" x2="92.5" y2="573.1" stroke="#1a1a1a" stroke-width="1.1"/>
<line x1="126.5" y1="570.1" x2="126.5" y2="573.1" stroke="#1a1a1a" stroke-width="1.1"/>
<line x1="160.5" y1="570.1" x2="160.5" y2="573.1" stroke="#1a1a1a" stroke-width="1.1"/>
<line x1="194.5" y1="570.1" x2="194.5" y2="573.1" stroke="#1a1a1a" stroke-width="1.1"/>
<text x="22.3" y="513.5" font-size="12.3" text-anchor="middle" transform="rotate(-90 22.3 513.5)">% of apoptotic cells</text>
<rect x="45.5" y="541.5" width="7" height="29" fill="#fff" stroke="#1a1a1a" stroke-width="1.1"/>
<line x1="49.5" y1="541.01" x2="49.5" y2="539.13" stroke="#1a1a1a" stroke-width="1.1"/>
<line x1="47.1" y1="539.5" x2="51.1" y2="539.5" stroke="#1a1a1a" stroke-width="1.1"/>
<rect x="54.5" y="535.5" width="7" height="35" fill="#fff" stroke="#1a1a1a" stroke-width="1.1"/>
<line x1="58.5" y1="535.92" x2="58.5" y2="532.22" stroke="#1a1a1a" stroke-width="1.1"/>
<line x1="56.2" y1="532.5" x2="60.2" y2="532.5" stroke="#1a1a1a" stroke-width="1.1"/>
<rect x="63.5" y="532.5" width="7" height="38" fill="#fff" stroke="#1a1a1a" stroke-width="1.1"/>
<line x1="67.5" y1="532.5" x2="67.5" y2="530.84" stroke="#1a1a1a" stroke-width="1.1"/>
<line x1="65" y1="530.5" x2="69" y2="530.5" stroke="#1a1a1a" stroke-width="1.1"/>
<rect x="79.5" y="537.5" width="7" height="33" fill="#fff" stroke="#1a1a1a" stroke-width="1.1"/>
<line x1="83.5" y1="537.47" x2="83.5" y2="535.81" stroke="#1a1a1a" stroke-width="1.1"/>
<line x1="81.2" y1="535.5" x2="85.2" y2="535.5" stroke="#1a1a1a" stroke-width="1.1"/>
<rect x="88.5" y="541.5" width="7" height="29" fill="#fff" stroke="#1a1a1a" stroke-width="1.1"/>
<line x1="92.5" y1="541.34" x2="92.5" y2="536.37" stroke="#1a1a1a" stroke-width="1.1"/>
<line x1="90.3" y1="536.5" x2="94.3" y2="536.5" stroke="#1a1a1a" stroke-width="1.1"/>
<rect x="97.5" y="541.5" width="7" height="29" fill="#fff" stroke="#1a1a1a" stroke-width="1.1"/>
<line x1="101.5" y1="541.9" x2="101.5" y2="534.71" stroke="#1a1a1a" stroke-width="1.1"/>
<line x1="99.1" y1="534.5" x2="103.1" y2="534.5" stroke="#1a1a1a" stroke-width="1.1"/>
<rect x="113.5" y="540.5" width="7" height="30" fill="#fff" stroke="#1a1a1a" stroke-width="1.1"/>
<line x1="117.5" y1="540.79" x2="117.5" y2="538.86" stroke="#1a1a1a" stroke-width="1.1"/>
<line x1="115.3" y1="538.5" x2="119.3" y2="538.5" stroke="#1a1a1a" stroke-width="1.1"/>
<rect x="123.5" y="534.5" width="6" height="36" fill="#fff" stroke="#1a1a1a" stroke-width="1.1"/>
<line x1="126.5" y1="534.15" x2="126.5" y2="530.28" stroke="#1a1a1a" stroke-width="1.1"/>
<line x1="124.4" y1="530.5" x2="128.4" y2="530.5" stroke="#1a1a1a" stroke-width="1.1"/>
<rect x="131.5" y="524.5" width="7" height="46" fill="#fff" stroke="#1a1a1a" stroke-width="1.1"/>
<line x1="135.5" y1="524.75" x2="135.5" y2="521.16" stroke="#1a1a1a" stroke-width="1.1"/>
<line x1="133.2" y1="521.5" x2="137.2" y2="521.5" stroke="#1a1a1a" stroke-width="1.1"/>
<rect x="147.5" y="519.5" width="7" height="51" fill="#fff" stroke="#1a1a1a" stroke-width="1.1"/>
<line x1="151.5" y1="519.22" x2="151.5" y2="517.57" stroke="#1a1a1a" stroke-width="1.1"/>
<line x1="149.3" y1="517.5" x2="153.3" y2="517.5" stroke="#1a1a1a" stroke-width="1.1"/>
<rect x="157.5" y="534.5" width="6" height="36" fill="#fff" stroke="#1a1a1a" stroke-width="1.1"/>
<line x1="160.5" y1="534.71" x2="160.5" y2="524.48" stroke="#1a1a1a" stroke-width="1.1"/>
<line x1="158.4" y1="524.5" x2="162.4" y2="524.5" stroke="#1a1a1a" stroke-width="1.1"/>
<rect x="165.5" y="515.5" width="7" height="55" fill="#fff" stroke="#1a1a1a" stroke-width="1.1"/>
<line x1="169.5" y1="515.91" x2="169.5" y2="510.38" stroke="#1a1a1a" stroke-width="1.1"/>
<line x1="167.2" y1="510.5" x2="171.2" y2="510.5" stroke="#1a1a1a" stroke-width="1.1"/>
<rect x="182.5" y="534.5" width="6" height="36" fill="#fff" stroke="#1a1a1a" stroke-width="1.1"/>
<line x1="185.5" y1="534.71" x2="185.5" y2="531.94" stroke="#1a1a1a" stroke-width="1.1"/>
<line x1="183.4" y1="531.5" x2="187.4" y2="531.5" stroke="#1a1a1a" stroke-width="1.1"/>
<rect x="191.5" y="537.5" width="6" height="33" fill="#fff" stroke="#1a1a1a" stroke-width="1.1"/>
<line x1="194.5" y1="537.47" x2="194.5" y2="525.31" stroke="#1a1a1a" stroke-width="1.1"/>
<line x1="192.5" y1="525.5" x2="196.5" y2="525.5" stroke="#1a1a1a" stroke-width="1.1"/>
<rect x="199.5" y="525.5" width="7" height="45" fill="#fff" stroke="#1a1a1a" stroke-width="1.1"/>
<line x1="203.5" y1="525.31" x2="203.5" y2="521.71" stroke="#1a1a1a" stroke-width="1.1"/>
<line x1="201.3" y1="521.5" x2="205.3" y2="521.5" stroke="#1a1a1a" stroke-width="1.1"/>
<circle cx="47.8" cy="538.1" r="2.3" fill="#1414ff"/>
<circle cx="50.7" cy="539.5" r="2.3" fill="#1414ff"/>
<circle cx="49.2" cy="545.3" r="2.3" fill="#1414ff"/>
<circle cx="58" cy="529.2" r="2.3" fill="#ff2a1f"/>
<circle cx="58" cy="536.1" r="2.3" fill="#ff2a1f"/>
<circle cx="58" cy="542" r="2.3" fill="#ff2a1f"/>
<circle cx="66.1" cy="530.5" r="2.3" fill="#3cdc2c"/>
<circle cx="67.6" cy="532.2" r="2.3" fill="#3cdc2c"/>
<circle cx="69" cy="531.4" r="2.3" fill="#3cdc2c"/>
<circle cx="80.8" cy="537" r="2.3" fill="#1414ff"/>
<circle cx="83.4" cy="534.2" r="2.3" fill="#1414ff"/>
<circle cx="84.6" cy="536.1" r="2.3" fill="#1414ff"/>
<circle cx="92.2" cy="534.2" r="2.3" fill="#ff2a1f"/>
<circle cx="92.2" cy="539.8" r="2.3" fill="#ff2a1f"/>
<circle cx="92.2" cy="548" r="2.3" fill="#ff2a1f"/>
<circle cx="101.2" cy="528.5" r="2.3" fill="#3cdc2c"/>
<circle cx="101.2" cy="545.8" r="2.3" fill="#3cdc2c"/>
<circle cx="101.2" cy="549.5" r="2.3" fill="#3cdc2c"/>
<circle cx="116.1" cy="536.3" r="2.3" fill="#1414ff"/>
<circle cx="117.3" cy="540.7" r="2.3" fill="#1414ff"/>
<circle cx="119.5" cy="539.8" r="2.3" fill="#1414ff"/>
<circle cx="126.5" cy="526.3" r="2.3" fill="#ff2a1f"/>
<circle cx="126.5" cy="534.5" r="2.3" fill="#ff2a1f"/>
<circle cx="126.5" cy="541.3" r="2.3" fill="#ff2a1f"/>
<circle cx="135.6" cy="517.9" r="2.3" fill="#3cdc2c"/>
<circle cx="135.6" cy="524.8" r="2.3" fill="#3cdc2c"/>
<circle cx="135.6" cy="531.6" r="2.3" fill="#3cdc2c"/>
<circle cx="149.8" cy="515.2" r="2.3" fill="#1414ff"/>
<circle cx="152.9" cy="518.5" r="2.3" fill="#1414ff"/>
<circle cx="150.2" cy="523" r="2.3" fill="#1414ff"/>
<circle cx="160.6" cy="521.7" r="2.3" fill="#ff2a1f"/>
<circle cx="160.6" cy="525.2" r="2.3" fill="#ff2a1f"/>
<circle cx="160.6" cy="554" r="2.3" fill="#ff2a1f"/>
<circle cx="169.4" cy="507" r="2.3" fill="#3cdc2c"/>
<circle cx="169.4" cy="513.9" r="2.3" fill="#3cdc2c"/>
<circle cx="169.4" cy="524.8" r="2.3" fill="#3cdc2c"/>
<circle cx="184" cy="530.9" r="2.3" fill="#1414ff"/>
<circle cx="187.3" cy="533.1" r="2.3" fill="#1414ff"/>
<circle cx="185.3" cy="538.5" r="2.3" fill="#1414ff"/>
<circle cx="194.6" cy="516.1" r="2.3" fill="#ff2a1f"/>
<circle cx="194.6" cy="541.3" r="2.3" fill="#ff2a1f"/>
<circle cx="194.6" cy="552.6" r="2.3" fill="#ff2a1f"/>
<circle cx="203.7" cy="517.9" r="2.3" fill="#3cdc2c"/>
<circle cx="202.6" cy="528.5" r="2.3" fill="#3cdc2c"/>
<circle cx="205.5" cy="528.5" r="2.3" fill="#3cdc2c"/>
<line x1="50.3" y1="525.5" x2="59.7" y2="525.5" stroke="#1a1a1a" stroke-width="1.8"/>
<text x="54.6" y="522.2" font-size="7.6" text-anchor="middle">N.S.</text>
<line x1="50.3" y1="513.5" x2="68.1" y2="513.5" stroke="#1a1a1a" stroke-width="1.8"/>
<text x="59.7" y="510.2" font-size="7.6" text-anchor="middle">N.S.</text>
<line x1="84.2" y1="529.5" x2="93" y2="529.5" stroke="#1a1a1a" stroke-width="1.8"/>
<text x="88.6" y="526.4" font-size="7.6" text-anchor="middle">N.S.</text>
<line x1="84.2" y1="517.5" x2="101.5" y2="517.5" stroke="#1a1a1a" stroke-width="1.8"/>
<text x="92.8" y="514.2" font-size="7.6" text-anchor="middle">N.S.</text>
<line x1="117.3" y1="522.5" x2="125.6" y2="522.5" stroke="#1a1a1a" stroke-width="1.8"/>
<text x="121.4" y="519.3" font-size="7.6" text-anchor="middle">N.S.</text>
<line x1="117.3" y1="510.5" x2="134.7" y2="510.5" stroke="#1a1a1a" stroke-width="1.8"/>
<text x="126" y="507.1" font-size="7.6" text-anchor="middle">N.S.</text>
<line x1="148.4" y1="511.5" x2="159.3" y2="511.5" stroke="#1a1a1a" stroke-width="1.8"/>
<text x="153.8" y="508.4" font-size="7.6" text-anchor="middle">N.S.</text>
<line x1="148.4" y1="499.5" x2="167.9" y2="499.5" stroke="#1a1a1a" stroke-width="1.8"/>
<text x="158.2" y="496" font-size="7.6" text-anchor="middle">N.S.</text>
<line x1="184.3" y1="514.5" x2="193.1" y2="514.5" stroke="#1a1a1a" stroke-width="1.8"/>
<text x="188.7" y="511.1" font-size="7.6" text-anchor="middle">N.S.</text>
<line x1="184.3" y1="502.5" x2="201.7" y2="502.5" stroke="#1a1a1a" stroke-width="1.8"/>
<text x="193" y="499.2" font-size="7.6" text-anchor="middle">N.S.</text>
<text x="58.2" y="584.6" font-size="11" text-anchor="middle">D7</text>
<text x="92.3" y="584.6" font-size="11" text-anchor="middle">D9</text>
<text x="126.4" y="584.6" font-size="11" text-anchor="middle">D11</text>
<text x="160.4" y="584.6" font-size="11" text-anchor="middle">D13</text>
<text x="194.5" y="584.6" font-size="11" text-anchor="middle">D15</text>
<circle cx="56.3" cy="461.9" r="2.3" fill="#1414ff"/>
<text x="68.6" y="465.7" font-size="10.6">shRNA-Luciferase</text>
<circle cx="56.3" cy="473.9" r="2.3" fill="#ff2a1f"/>
<text x="68.6" y="477.7" font-size="10.6">shRNA-PIM1#1</text>
<circle cx="56.3" cy="485.9" r="2.3" fill="#3cdc2c"/>
<text x="68.6" y="489.7" font-size="10.6">shRNA-PIM1#2</text>
<text x="251.6" y="432.9" font-size="16.8" font-weight="bold" fill="#000" stroke="#000" stroke-width="0.35">H</text>
<text x="310.7" y="444.9" font-size="10.6" text-anchor="middle">shRNA-</text>
<text x="310.7" y="457.9" font-size="10.6" text-anchor="middle">Luciferase</text>
<text x="372.2" y="444.9" font-size="10.6" text-anchor="middle">shRNA-</text>
<text x="372.2" y="457.9" font-size="10.6" text-anchor="middle">PIM1#1</text>
<text x="430.9" y="444.9" font-size="10.6" text-anchor="middle">shRNA-</text>
<text x="430.9" y="457.9" font-size="10.6" text-anchor="middle">PIM1#2</text>
<text x="282.3" y="485.2" font-size="9.7" text-anchor="middle" transform="rotate(-90 282.3 485.2)">IL-3R</text>
<text x="282.3" y="555.1" font-size="9.7" text-anchor="middle" transform="rotate(-90 282.3 555.1)">CD36</text>
<text x="286" y="519.9" font-size="9.7">GPA</text>
<line x1="306.3" y1="516.5" x2="456" y2="516.5" stroke="#1a1a1a" stroke-width="1.6"/>
<text x="282.3" y="589.9" font-size="9.7">CD34</text>
<line x1="306.3" y1="586.5" x2="456" y2="586.5" stroke="#1a1a1a" stroke-width="1.6"/>
<rect x="289.3" y="460.5" width="47.2" height="46.8" fill="#fff" stroke="#9a9a9a" stroke-width="0.8"/>
<line x1="287.3" y1="464.5" x2="289.3" y2="464.5" stroke="#777" stroke-width="0.6"/>
<line x1="285.1" y1="465.1" x2="286.5" y2="463.9" stroke="#999" stroke-width="0.6"/>
<line x1="287.3" y1="475" x2="289.3" y2="475" stroke="#777" stroke-width="0.6"/>
<line x1="285.1" y1="475.6" x2="286.5" y2="474.4" stroke="#999" stroke-width="0.6"/>
<line x1="287.3" y1="485.8" x2="289.3" y2="485.8" stroke="#777" stroke-width="0.6"/>
<line x1="285.1" y1="486.4" x2="286.5" y2="485.2" stroke="#999" stroke-width="0.6"/>
<line x1="287.3" y1="496.7" x2="289.3" y2="496.7" stroke="#777" stroke-width="0.6"/>
<line x1="285.1" y1="497.3" x2="286.5" y2="496.1" stroke="#999" stroke-width="0.6"/>
<line x1="287.3" y1="502.1" x2="289.3" y2="502.1" stroke="#777" stroke-width="0.6"/>
<line x1="285.1" y1="502.7" x2="286.5" y2="501.5" stroke="#999" stroke-width="0.6"/>
<line x1="294.5" y1="507.3" x2="294.5" y2="509.1" stroke="#777" stroke-width="0.6"/>
<line x1="293.8" y1="511.5" x2="295.2" y2="510.3" stroke="#999" stroke-width="0.6"/>
<line x1="299.4" y1="507.3" x2="299.4" y2="509.1" stroke="#777" stroke-width="0.6"/>
<line x1="298.7" y1="511.5" x2="300.1" y2="510.3" stroke="#999" stroke-width="0.6"/>
<line x1="310.6" y1="507.3" x2="310.6" y2="509.1" stroke="#777" stroke-width="0.6"/>
<line x1="309.9" y1="511.5" x2="311.3" y2="510.3" stroke="#999" stroke-width="0.6"/>
<line x1="321.4" y1="507.3" x2="321.4" y2="509.1" stroke="#777" stroke-width="0.6"/>
<line x1="320.7" y1="511.5" x2="322.1" y2="510.3" stroke="#999" stroke-width="0.6"/>
<line x1="332.3" y1="507.3" x2="332.3" y2="509.1" stroke="#777" stroke-width="0.6"/>
<line x1="331.6" y1="511.5" x2="333" y2="510.3" stroke="#999" stroke-width="0.6"/>
<g filter="url(#bl3)"><ellipse cx="295.3" cy="489" rx="2.4" ry="10.5" fill="#a0a4f6" opacity="0.8"/><ellipse cx="307.3" cy="498.5" rx="14.5" ry="3.4" fill="#989cf6" opacity="0.8"/><ellipse cx="295.3" cy="491.5" rx="1.5" ry="7.5" fill="#5c78f0" opacity="0.85"/><ellipse cx="304.8" cy="498.5" rx="10.5" ry="2" fill="#5c78f0" opacity="0.85"/><ellipse cx="295.3" cy="493.5" rx="0.8" ry="5" fill="#38c0e0"/><ellipse cx="302.3" cy="498.5" rx="7" ry="0.9" fill="#38c0e0"/><ellipse cx="295.5" cy="497.5" rx="2.2" ry="3.4" fill="#38c0e0"/><ellipse cx="295.5" cy="498" rx="1.5" ry="2.2" fill="#60d060"/><ellipse cx="295.5" cy="498.3" rx="0.8" ry="1.1" fill="#f08a30"/></g><rect x="315.43" y="496.83" width="0.8" height="0.8" fill="#5468ee"/><rect x="298.28" y="497.47" width="0.8" height="0.8" fill="#a8aaf8"/><rect x="299.14" y="497.66" width="0.8" height="0.8" fill="#5468ee"/><rect x="297.45" y="488.66" width="0.8" height="0.8" fill="#8c90f4"/><rect x="321.71" y="499.98" width="0.8" height="0.8" fill="#5468ee"/><rect x="298.68" y="497.72" width="0.8" height="0.8" fill="#8c90f4"/><rect x="296.79" y="498.71" width="0.8" height="0.8" fill="#8c90f4"/><rect x="295.86" y="496.75" width="0.8" height="0.8" fill="#a8aaf8"/><rect x="308.5" y="498.16" width="0.8" height="0.8" fill="#5468ee"/><rect x="297.06" y="490.82" width="0.8" height="0.8" fill="#8c90f4"/><rect x="316.28" y="497.03" width="0.8" height="0.8" fill="#8c90f4"/><rect x="297.18" y="499.82" width="0.8" height="0.8" fill="#5468ee"/><rect x="294.68" y="495.84" width="0.8" height="0.8" fill="#8c90f4"/><rect x="295.17" y="494.26" width="0.8" height="0.8" fill="#8c90f4"/><rect x="294.91" y="491.78" width="0.8" height="0.8" fill="#8c90f4"/><rect x="303.48" y="499.13" width="0.8" height="0.8" fill="#a8aaf8"/><rect x="306.93" y="499.75" width="0.8" height="0.8" fill="#a8aaf8"/><rect x="296.37" y="493.29" width="0.8" height="0.8" fill="#8c90f4"/><rect x="294.55" y="497.5" width="0.8" height="0.8" fill="#8c90f4"/><rect x="305.46" y="498.65" width="0.8" height="0.8" fill="#5468ee"/><rect x="293.88" y="493.93" width="0.8" height="0.8" fill="#8c90f4"/><rect x="295.22" y="492.76" width="0.8" height="0.8" fill="#8c90f4"/><rect x="302.07" y="499.9" width="0.8" height="0.8" fill="#8c90f4"/><rect x="297.8" y="479.11" width="0.8" height="0.8" fill="#8c90f4"/><rect x="296.29" y="498.49" width="0.8" height="0.8" fill="#8c90f4"/><rect x="303.04" y="496.23" width="0.8" height="0.8" fill="#8c90f4"/><rect x="296.22" y="489.77" width="0.8" height="0.8" fill="#8c90f4"/><rect x="293.27" y="486.67" width="0.8" height="0.8" fill="#8c90f4"/><rect x="300.41" y="499.12" width="0.8" height="0.8" fill="#a8aaf8"/><rect x="294.21" y="492.34" width="0.8" height="0.8" fill="#8c90f4"/><rect x="305.42" y="497.92" width="0.8" height="0.8" fill="#a8aaf8"/><rect x="293.82" y="489.2" width="0.8" height="0.8" fill="#8c90f4"/><rect x="295.56" y="485.26" width="0.8" height="0.8" fill="#8c90f4"/><rect x="301.96" y="500.86" width="0.8" height="0.8" fill="#a8aaf8"/><rect x="298.05" y="491.76" width="0.8" height="0.8" fill="#8c90f4"/><rect x="298.42" y="498.94" width="0.8" height="0.8" fill="#8c90f4"/><rect x="294.83" y="501.78" width="0.8" height="0.8" fill="#5468ee"/><rect x="296.14" y="486.65" width="0.8" height="0.8" fill="#8c90f4"/><rect x="296.31" y="484.68" width="0.8" height="0.8" fill="#8c90f4"/><rect x="295.54" y="486.08" width="0.8" height="0.8" fill="#8c90f4"/><rect x="300.41" y="497.43" width="0.8" height="0.8" fill="#8c90f4"/><rect x="303.64" y="499.37" width="0.8" height="0.8" fill="#8c90f4"/><rect x="295.9" y="489.78" width="0.8" height="0.8" fill="#8c90f4"/><rect x="300.72" y="499.9" width="0.8" height="0.8" fill="#5468ee"/><rect x="302.76" y="495.94" width="0.8" height="0.8" fill="#a8aaf8"/><rect x="313.46" y="496.07" width="0.8" height="0.8" fill="#5468ee"/><rect x="302.08" y="493.61" width="0.8" height="0.8" fill="#8c90f4"/><rect x="297.63" y="498.84" width="0.8" height="0.8" fill="#5468ee"/><rect x="295.85" y="497.49" width="0.8" height="0.8" fill="#8c90f4"/><rect x="296.05" y="494.22" width="0.8" height="0.8" fill="#a8aaf8"/><rect x="311.96" y="502.24" width="0.8" height="0.8" fill="#5468ee"/><rect x="302.82" y="494.55" width="0.8" height="0.8" fill="#5468ee"/><rect x="305.86" y="498.95" width="0.8" height="0.8" fill="#8c90f4"/><rect x="304.07" y="500.28" width="0.8" height="0.8" fill="#a8aaf8"/><rect x="295.88" y="495.09" width="0.8" height="0.8" fill="#8c90f4"/><rect x="294.22" y="493.45" width="0.8" height="0.8" fill="#8c90f4"/><rect x="298.1" y="496.42" width="0.8" height="0.8" fill="#5468ee"/><rect x="308.7" y="500.17" width="0.8" height="0.8" fill="#8c90f4"/><rect x="295.55" y="496.5" width="0.8" height="0.8" fill="#8c90f4"/><rect x="307.5" y="500.77" width="0.8" height="0.8" fill="#a8aaf8"/><rect x="294.36" y="498.8" width="0.8" height="0.8" fill="#5468ee"/><rect x="294.01" y="490.47" width="0.8" height="0.8" fill="#8c90f4"/><rect x="306.97" y="502.36" width="0.8" height="0.8" fill="#5468ee"/><rect x="301.18" y="501.12" width="0.8" height="0.8" fill="#8c90f4"/><rect x="299.85" y="495.34" width="0.8" height="0.8" fill="#8c90f4"/><rect x="304.19" y="500.26" width="0.8" height="0.8" fill="#5468ee"/><rect x="296.16" y="491.24" width="0.8" height="0.8" fill="#8c90f4"/><rect x="297.82" y="498.68" width="0.8" height="0.8" fill="#5468ee"/><rect x="302.87" y="499.97" width="0.8" height="0.8" fill="#8c90f4"/><rect x="303.26" y="500.13" width="0.8" height="0.8" fill="#a8aaf8"/><rect x="297.41" y="475.88" width="0.8" height="0.8" fill="#8c90f4"/><rect x="296.56" y="498.73" width="0.8" height="0.8" fill="#a8aaf8"/><rect x="294.83" y="486.19" width="0.8" height="0.8" fill="#8c90f4"/><rect x="295.37" y="495.79" width="0.8" height="0.8" fill="#8c90f4"/><rect x="295" y="496.94" width="0.8" height="0.8" fill="#8c90f4"/><rect x="294.74" y="499.6" width="0.8" height="0.8" fill="#8c90f4"/><rect x="297.9" y="499.14" width="0.8" height="0.8" fill="#a8aaf8"/><rect x="303.2" y="493.78" width="0.8" height="0.8" fill="#a8aaf8"/><rect x="295.78" y="491.31" width="0.8" height="0.8" fill="#8c90f4"/><rect x="294.69" y="496.03" width="0.8" height="0.8" fill="#8c90f4"/><rect x="295.12" y="489.29" width="0.8" height="0.8" fill="#8c90f4"/><rect x="307.99" y="498.15" width="0.8" height="0.8" fill="#8c90f4"/><rect x="299.97" y="494.3" width="0.8" height="0.8" fill="#8c90f4"/><rect x="302.04" y="497.26" width="0.8" height="0.8" fill="#5468ee"/><rect x="309.76" y="495.39" width="0.8" height="0.8" fill="#5468ee"/><rect x="301.09" y="496.56" width="0.8" height="0.8" fill="#5468ee"/><rect x="298.23" y="497.4" width="0.8" height="0.8" fill="#a8aaf8"/><rect x="301.09" y="494.16" width="0.8" height="0.8" fill="#8c90f4"/><rect x="298.48" y="482.65" width="0.8" height="0.8" fill="#8c90f4"/><rect x="311.51" y="497.69" width="0.8" height="0.8" fill="#5468ee"/><rect x="295.25" y="495.93" width="0.8" height="0.8" fill="#8c90f4"/><rect x="303.2" y="498.92" width="0.8" height="0.8" fill="#5468ee"/><rect x="296.69" y="498.54" width="0.8" height="0.8" fill="#8c90f4"/><rect x="306.34" y="499.04" width="0.8" height="0.8" fill="#a8aaf8"/><rect x="297.9" y="499.38" width="0.8" height="0.8" fill="#a8aaf8"/><rect x="309.25" y="498.16" width="0.8" height="0.8" fill="#5468ee"/><rect x="318.68" y="498.73" width="0.8" height="0.8" fill="#8c90f4"/><rect x="306.18" y="499.45" width="0.8" height="0.8" fill="#a8aaf8"/><rect x="300.46" y="500.56" width="0.8" height="0.8" fill="#a8aaf8"/><rect x="293.65" y="477.79" width="0.8" height="0.8" fill="#8c90f4"/><rect x="300.89" y="497.42" width="0.8" height="0.8" fill="#8c90f4"/><rect x="307.19" y="498.1" width="0.8" height="0.8" fill="#8c90f4"/><rect x="295.05" y="498.63" width="0.8" height="0.8" fill="#5468ee"/><rect x="296.96" y="495.43" width="0.8" height="0.8" fill="#8c90f4"/><rect x="298.36" y="496.06" width="0.8" height="0.8" fill="#5468ee"/><rect x="296.92" y="479.48" width="0.8" height="0.8" fill="#8c90f4"/><rect x="310.07" y="496.79" width="0.8" height="0.8" fill="#5468ee"/><rect x="294.58" y="496.71" width="0.8" height="0.8" fill="#8c90f4"/><rect x="302.92" y="494.56" width="0.8" height="0.8" fill="#5468ee"/><rect x="302.39" y="499.82" width="0.8" height="0.8" fill="#8c90f4"/><rect x="306.24" y="501.03" width="0.8" height="0.8" fill="#8c90f4"/><rect x="295.42" y="496.35" width="0.8" height="0.8" fill="#8c90f4"/><rect x="295.13" y="490.85" width="0.8" height="0.8" fill="#8c90f4"/><rect x="307.51" y="498.51" width="0.8" height="0.8" fill="#a8aaf8"/><rect x="297.43" y="495.45" width="0.8" height="0.8" fill="#5468ee"/><rect x="293.55" y="485.03" width="0.8" height="0.8" fill="#8c90f4"/><rect x="313.7" y="497.55" width="0.8" height="0.8" fill="#a8aaf8"/><rect x="313.48" y="497.78" width="0.8" height="0.8" fill="#a8aaf8"/><rect x="308.82" y="501.86" width="0.8" height="0.8" fill="#a8aaf8"/><rect x="301.43" y="497.5" width="0.8" height="0.8" fill="#5468ee"/>
<rect x="291.5" y="494.5" width="8" height="11" fill="none" stroke="#222" stroke-width="0.9"/>
<text x="297.5" y="493.5" font-size="7.4" fill="#333">30.2</text>
<rect x="289.3" y="530.3" width="47.2" height="47.5" fill="#fff" stroke="#9a9a9a" stroke-width="0.8"/>
<line x1="287.3" y1="534.3" x2="289.3" y2="534.3" stroke="#777" stroke-width="0.6"/>
<line x1="285.1" y1="534.9" x2="286.5" y2="533.7" stroke="#999" stroke-width="0.6"/>
<line x1="287.3" y1="544.8" x2="289.3" y2="544.8" stroke="#777" stroke-width="0.6"/>
<line x1="285.1" y1="545.4" x2="286.5" y2="544.2" stroke="#999" stroke-width="0.6"/>
<line x1="287.3" y1="555.6" x2="289.3" y2="555.6" stroke="#777" stroke-width="0.6"/>
<line x1="285.1" y1="556.2" x2="286.5" y2="555" stroke="#999" stroke-width="0.6"/>
<line x1="287.3" y1="566.5" x2="289.3" y2="566.5" stroke="#777" stroke-width="0.6"/>
<line x1="285.1" y1="567.1" x2="286.5" y2="565.9" stroke="#999" stroke-width="0.6"/>
<line x1="287.3" y1="571.9" x2="289.3" y2="571.9" stroke="#777" stroke-width="0.6"/>
<line x1="285.1" y1="572.5" x2="286.5" y2="571.3" stroke="#999" stroke-width="0.6"/>
<line x1="294.5" y1="577.8" x2="294.5" y2="579.6" stroke="#777" stroke-width="0.6"/>
<line x1="293.8" y1="582" x2="295.2" y2="580.8" stroke="#999" stroke-width="0.6"/>
<line x1="299.4" y1="577.8" x2="299.4" y2="579.6" stroke="#777" stroke-width="0.6"/>
<line x1="298.7" y1="582" x2="300.1" y2="580.8" stroke="#999" stroke-width="0.6"/>
<line x1="310.6" y1="577.8" x2="310.6" y2="579.6" stroke="#777" stroke-width="0.6"/>
<line x1="309.9" y1="582" x2="311.3" y2="580.8" stroke="#999" stroke-width="0.6"/>
<line x1="321.4" y1="577.8" x2="321.4" y2="579.6" stroke="#777" stroke-width="0.6"/>
<line x1="320.7" y1="582" x2="322.1" y2="580.8" stroke="#999" stroke-width="0.6"/>
<line x1="332.3" y1="577.8" x2="332.3" y2="579.6" stroke="#777" stroke-width="0.6"/>
<line x1="331.6" y1="582" x2="333" y2="580.8" stroke="#999" stroke-width="0.6"/>
<g filter="url(#bl3)"><path d="M292.5 543.1 L295.3 540.3 L302.6 541.9 L309 543.1 L314.6 545.5 L315.4 548.7 L314.6 551.1 L315.4 555.5 L313 557.5 L309.8 560.7 L308.2 562.3 L305 562.3 L301 563.1 L293.7 562.3 L292.1 557.5 L291.7 549.5 Z" fill="#1e2ef4"/><path d="M292.9 564.2 L301 563.8 L309 565 L315.4 565 L319.6 568 L318.8 571.4 L309 571.8 L301 572.2 L293.7 571.8 L292.3 568 Z" fill="#1e2ef4"/><ellipse cx="297.2" cy="551" rx="5.6" ry="10.6" fill="#2cc4f0"/><ellipse cx="304.3" cy="548.2" rx="4.5" ry="2.2" fill="#2cc4f0"/><ellipse cx="306.3" cy="553.2" rx="2.5" ry="1.6" fill="#28a0f0"/><ellipse cx="304.3" cy="568.2" rx="9.5" ry="1.6" fill="#2cc4f0"/><ellipse cx="296.8" cy="549.8" rx="4.6" ry="9.4" fill="#4ee05a"/><ellipse cx="296.5" cy="568" rx="2.7" ry="2" fill="#4ee05a"/><ellipse cx="315.3" cy="569.2" rx="2.4" ry="1.2" fill="#4ee05a"/><ellipse cx="296.4" cy="548.5" rx="2.8" ry="5.2" fill="#e6e236"/><ellipse cx="296.2" cy="548.1" rx="1.8" ry="3.4" fill="#f27a22"/><ellipse cx="296.2" cy="547.9" rx="1.1" ry="2.3" fill="#e81c1c"/></g>
<rect x="291.5" y="534.5" width="11" height="29" fill="none" stroke="#222" stroke-width="0.9"/>
<rect x="302.5" y="563.5" width="24" height="10" fill="none" stroke="#222" stroke-width="0.9"/>
<text x="303.2" y="540.5" font-size="7.4" fill="#333">85.4</text>
<text x="334.7" y="562.6" font-size="7.4" text-anchor="end" fill="#333">10.1</text>
<rect x="348.3" y="460.5" width="47.2" height="46.8" fill="#fff" stroke="#9a9a9a" stroke-width="0.8"/>
<line x1="346.3" y1="464.5" x2="348.3" y2="464.5" stroke="#777" stroke-width="0.6"/>
<line x1="344.1" y1="465.1" x2="345.5" y2="463.9" stroke="#999" stroke-width="0.6"/>
<line x1="346.3" y1="475" x2="348.3" y2="475" stroke="#777" stroke-width="0.6"/>
<line x1="344.1" y1="475.6" x2="345.5" y2="474.4" stroke="#999" stroke-width="0.6"/>
<line x1="346.3" y1="485.8" x2="348.3" y2="485.8" stroke="#777" stroke-width="0.6"/>
<line x1="344.1" y1="486.4" x2="345.5" y2="485.2" stroke="#999" stroke-width="0.6"/>
<line x1="346.3" y1="496.7" x2="348.3" y2="496.7" stroke="#777" stroke-width="0.6"/>
<line x1="344.1" y1="497.3" x2="345.5" y2="496.1" stroke="#999" stroke-width="0.6"/>
<line x1="346.3" y1="502.1" x2="348.3" y2="502.1" stroke="#777" stroke-width="0.6"/>
<line x1="344.1" y1="502.7" x2="345.5" y2="501.5" stroke="#999" stroke-width="0.6"/>
<line x1="353.5" y1="507.3" x2="353.5" y2="509.1" stroke="#777" stroke-width="0.6"/>
<line x1="352.8" y1="511.5" x2="354.2" y2="510.3" stroke="#999" stroke-width="0.6"/>
<line x1="358.4" y1="507.3" x2="358.4" y2="509.1" stroke="#777" stroke-width="0.6"/>
<line x1="357.7" y1="511.5" x2="359.1" y2="510.3" stroke="#999" stroke-width="0.6"/>
<line x1="369.6" y1="507.3" x2="369.6" y2="509.1" stroke="#777" stroke-width="0.6"/>
<line x1="368.9" y1="511.5" x2="370.3" y2="510.3" stroke="#999" stroke-width="0.6"/>
<line x1="380.4" y1="507.3" x2="380.4" y2="509.1" stroke="#777" stroke-width="0.6"/>
<line x1="379.7" y1="511.5" x2="381.1" y2="510.3" stroke="#999" stroke-width="0.6"/>
<line x1="391.3" y1="507.3" x2="391.3" y2="509.1" stroke="#777" stroke-width="0.6"/>
<line x1="390.6" y1="511.5" x2="392" y2="510.3" stroke="#999" stroke-width="0.6"/>
<g filter="url(#bl3)"><ellipse cx="354.3" cy="489" rx="2.4" ry="10.5" fill="#a0a4f6" opacity="0.8"/><ellipse cx="366.3" cy="498.5" rx="14.5" ry="3.4" fill="#989cf6" opacity="0.8"/><ellipse cx="354.3" cy="491.5" rx="1.5" ry="7.5" fill="#5c78f0" opacity="0.85"/><ellipse cx="363.8" cy="498.5" rx="10.5" ry="2" fill="#5c78f0" opacity="0.85"/><ellipse cx="354.3" cy="493.5" rx="0.8" ry="5" fill="#38c0e0"/><ellipse cx="361.3" cy="498.5" rx="7" ry="0.9" fill="#38c0e0"/><ellipse cx="354.5" cy="497.5" rx="2.2" ry="3.4" fill="#38c0e0"/><ellipse cx="354.5" cy="498" rx="1.5" ry="2.2" fill="#60d060"/><ellipse cx="354.5" cy="498.3" rx="0.8" ry="1.1" fill="#f08a30"/></g><rect x="359.21" y="501.76" width="0.8" height="0.8" fill="#8c90f4"/><rect x="358.23" y="499.6" width="0.8" height="0.8" fill="#a8aaf8"/><rect x="353.16" y="491.27" width="0.8" height="0.8" fill="#8c90f4"/><rect x="368.35" y="497.66" width="0.8" height="0.8" fill="#8c90f4"/><rect x="354.05" y="498.15" width="0.8" height="0.8" fill="#8c90f4"/><rect x="364.91" y="501.39" width="0.8" height="0.8" fill="#5468ee"/><rect x="351.94" y="496.96" width="0.8" height="0.8" fill="#8c90f4"/><rect x="355.85" y="497.31" width="0.8" height="0.8" fill="#8c90f4"/><rect x="370.05" y="499.02" width="0.8" height="0.8" fill="#a8aaf8"/><rect x="358.41" y="498.03" width="0.8" height="0.8" fill="#8c90f4"/><rect x="354.68" y="492.83" width="0.8" height="0.8" fill="#8c90f4"/><rect x="353.44" y="487.01" width="0.8" height="0.8" fill="#8c90f4"/><rect x="354.06" y="494.22" width="0.8" height="0.8" fill="#8c90f4"/><rect x="353.16" y="491.49" width="0.8" height="0.8" fill="#8c90f4"/><rect x="355.7" y="500.37" width="0.8" height="0.8" fill="#a8aaf8"/><rect x="356.83" y="497.45" width="0.8" height="0.8" fill="#5468ee"/><rect x="368.78" y="501.79" width="0.8" height="0.8" fill="#a8aaf8"/><rect x="354.05" y="497.37" width="0.8" height="0.8" fill="#8c90f4"/><rect x="358.29" y="495.54" width="0.8" height="0.8" fill="#a8aaf8"/><rect x="359.2" y="497.95" width="0.8" height="0.8" fill="#a8aaf8"/><rect x="355.91" y="497.04" width="0.8" height="0.8" fill="#8c90f4"/><rect x="356.51" y="494.88" width="0.8" height="0.8" fill="#5468ee"/><rect x="353.46" y="487.68" width="0.8" height="0.8" fill="#8c90f4"/><rect x="359.06" y="499.03" width="0.8" height="0.8" fill="#8c90f4"/><rect x="361.56" y="499.28" width="0.8" height="0.8" fill="#5468ee"/><rect x="357.56" y="479.72" width="0.8" height="0.8" fill="#8c90f4"/><rect x="360.9" y="498.99" width="0.8" height="0.8" fill="#a8aaf8"/><rect x="354.6" y="488.52" width="0.8" height="0.8" fill="#8c90f4"/><rect x="355.79" y="492.48" width="0.8" height="0.8" fill="#8c90f4"/><rect x="354.46" y="499.48" width="0.8" height="0.8" fill="#5468ee"/><rect x="366.98" y="498.9" width="0.8" height="0.8" fill="#a8aaf8"/><rect x="352.74" y="493.8" width="0.8" height="0.8" fill="#8c90f4"/><rect x="354.18" y="498.26" width="0.8" height="0.8" fill="#5468ee"/><rect x="355.77" y="491.14" width="0.8" height="0.8" fill="#8c90f4"/><rect x="365.98" y="497.97" width="0.8" height="0.8" fill="#8c90f4"/><rect x="354.75" y="497.76" width="0.8" height="0.8" fill="#a8aaf8"/><rect x="362.8" y="497.95" width="0.8" height="0.8" fill="#8c90f4"/><rect x="372.63" y="497.76" width="0.8" height="0.8" fill="#a8aaf8"/><rect x="375.79" y="500.23" width="0.8" height="0.8" fill="#5468ee"/><rect x="353.33" y="492.86" width="0.8" height="0.8" fill="#8c90f4"/><rect x="361.19" y="498.67" width="0.8" height="0.8" fill="#5468ee"/><rect x="353.33" y="498.03" width="0.8" height="0.8" fill="#8c90f4"/><rect x="360.18" y="496.98" width="0.8" height="0.8" fill="#a8aaf8"/><rect x="366.59" y="496.51" width="0.8" height="0.8" fill="#8c90f4"/><rect x="354.78" y="496.77" width="0.8" height="0.8" fill="#8c90f4"/><rect x="379.93" y="499.25" width="0.8" height="0.8" fill="#8c90f4"/><rect x="356.38" y="487.98" width="0.8" height="0.8" fill="#8c90f4"/><rect x="368.93" y="502.5" width="0.8" height="0.8" fill="#8c90f4"/><rect x="363.79" y="500.35" width="0.8" height="0.8" fill="#5468ee"/><rect x="355.15" y="491.02" width="0.8" height="0.8" fill="#8c90f4"/><rect x="353.8" y="493.76" width="0.8" height="0.8" fill="#8c90f4"/><rect x="364.8" y="496.81" width="0.8" height="0.8" fill="#a8aaf8"/><rect x="355.45" y="496.08" width="0.8" height="0.8" fill="#8c90f4"/><rect x="354.03" y="497.03" width="0.8" height="0.8" fill="#8c90f4"/><rect x="357.58" y="500.72" width="0.8" height="0.8" fill="#5468ee"/><rect x="352.56" y="488.29" width="0.8" height="0.8" fill="#8c90f4"/><rect x="356.27" y="500" width="0.8" height="0.8" fill="#8c90f4"/><rect x="354.33" y="472.37" width="0.8" height="0.8" fill="#8c90f4"/><rect x="355.35" y="498.11" width="0.8" height="0.8" fill="#8c90f4"/><rect x="354.28" y="495.4" width="0.8" height="0.8" fill="#8c90f4"/><rect x="354.49" y="490.34" width="0.8" height="0.8" fill="#8c90f4"/><rect x="358.36" y="497.88" width="0.8" height="0.8" fill="#8c90f4"/><rect x="361.28" y="500.13" width="0.8" height="0.8" fill="#8c90f4"/><rect x="353.55" y="497.33" width="0.8" height="0.8" fill="#8c90f4"/><rect x="356.81" y="496.44" width="0.8" height="0.8" fill="#a8aaf8"/><rect x="354.59" y="496.35" width="0.8" height="0.8" fill="#a8aaf8"/><rect x="354.79" y="489.47" width="0.8" height="0.8" fill="#8c90f4"/><rect x="362.15" y="498.38" width="0.8" height="0.8" fill="#a8aaf8"/><rect x="356.24" y="497.37" width="0.8" height="0.8" fill="#a8aaf8"/><rect x="370.03" y="500.84" width="0.8" height="0.8" fill="#8c90f4"/><rect x="365.09" y="499.57" width="0.8" height="0.8" fill="#a8aaf8"/><rect x="353.91" y="498.26" width="0.8" height="0.8" fill="#5468ee"/><rect x="354" y="494.34" width="0.8" height="0.8" fill="#8c90f4"/><rect x="353.96" y="483.82" width="0.8" height="0.8" fill="#8c90f4"/><rect x="355.12" y="490.88" width="0.8" height="0.8" fill="#8c90f4"/><rect x="356.64" y="499.24" width="0.8" height="0.8" fill="#a8aaf8"/><rect x="371.16" y="496.08" width="0.8" height="0.8" fill="#a8aaf8"/><rect x="369.98" y="499.87" width="0.8" height="0.8" fill="#5468ee"/><rect x="358.01" y="503.66" width="0.8" height="0.8" fill="#a8aaf8"/><rect x="353.4" y="500.4" width="0.8" height="0.8" fill="#5468ee"/><rect x="353.48" y="486.8" width="0.8" height="0.8" fill="#8c90f4"/><rect x="353.97" y="496.59" width="0.8" height="0.8" fill="#5468ee"/><rect x="359.94" y="496.3" width="0.8" height="0.8" fill="#8c90f4"/><rect x="351.66" y="492.5" width="0.8" height="0.8" fill="#8c90f4"/><rect x="353.92" y="499.18" width="0.8" height="0.8" fill="#8c90f4"/><rect x="367.49" y="497.89" width="0.8" height="0.8" fill="#5468ee"/><rect x="351.94" y="492.9" width="0.8" height="0.8" fill="#8c90f4"/><rect x="356.29" y="490.28" width="0.8" height="0.8" fill="#8c90f4"/><rect x="365.52" y="499.94" width="0.8" height="0.8" fill="#8c90f4"/><rect x="354.89" y="488.88" width="0.8" height="0.8" fill="#8c90f4"/><rect x="375.08" y="498.8" width="0.8" height="0.8" fill="#5468ee"/><rect x="360.45" y="499.62" width="0.8" height="0.8" fill="#5468ee"/><rect x="365.71" y="498.6" width="0.8" height="0.8" fill="#a8aaf8"/><rect x="353.98" y="495.63" width="0.8" height="0.8" fill="#8c90f4"/><rect x="362.53" y="498.33" width="0.8" height="0.8" fill="#8c90f4"/><rect x="363.83" y="494.88" width="0.8" height="0.8" fill="#a8aaf8"/><rect x="368.86" y="498.03" width="0.8" height="0.8" fill="#8c90f4"/><rect x="358.23" y="499.04" width="0.8" height="0.8" fill="#a8aaf8"/><rect x="352.9" y="487.24" width="0.8" height="0.8" fill="#8c90f4"/><rect x="352.98" y="490.42" width="0.8" height="0.8" fill="#8c90f4"/><rect x="355.49" y="490.83" width="0.8" height="0.8" fill="#8c90f4"/><rect x="355.22" y="499.6" width="0.8" height="0.8" fill="#8c90f4"/><rect x="353.34" y="498.13" width="0.8" height="0.8" fill="#5468ee"/><rect x="357.97" y="498.72" width="0.8" height="0.8" fill="#8c90f4"/><rect x="364.8" y="497.07" width="0.8" height="0.8" fill="#5468ee"/><rect x="354.34" y="499.76" width="0.8" height="0.8" fill="#5468ee"/><rect x="373.23" y="495.99" width="0.8" height="0.8" fill="#a8aaf8"/><rect x="357.98" y="496.41" width="0.8" height="0.8" fill="#5468ee"/><rect x="373.74" y="501.37" width="0.8" height="0.8" fill="#a8aaf8"/><rect x="364.36" y="497.89" width="0.8" height="0.8" fill="#8c90f4"/><rect x="354.39" y="499.55" width="0.8" height="0.8" fill="#5468ee"/><rect x="358.08" y="495.19" width="0.8" height="0.8" fill="#8c90f4"/><rect x="353.41" y="498.79" width="0.8" height="0.8" fill="#5468ee"/><rect x="360.46" y="498.96" width="0.8" height="0.8" fill="#5468ee"/><rect x="356.51" y="499.48" width="0.8" height="0.8" fill="#5468ee"/><rect x="356.44" y="488.55" width="0.8" height="0.8" fill="#8c90f4"/><rect x="354.2" y="485.01" width="0.8" height="0.8" fill="#8c90f4"/><rect x="365.61" y="499.35" width="0.8" height="0.8" fill="#8c90f4"/><rect x="355.48" y="481.81" width="0.8" height="0.8" fill="#8c90f4"/><rect x="360.19" y="499.29" width="0.8" height="0.8" fill="#a8aaf8"/>
<rect x="350.5" y="494.5" width="8" height="11" fill="none" stroke="#222" stroke-width="0.9"/>
<text x="356.5" y="493.5" font-size="7.4" fill="#333">32.4</text>
<rect x="348.3" y="530.3" width="47.2" height="47.5" fill="#fff" stroke="#9a9a9a" stroke-width="0.8"/>
<line x1="346.3" y1="534.3" x2="348.3" y2="534.3" stroke="#777" stroke-width="0.6"/>
<line x1="344.1" y1="534.9" x2="345.5" y2="533.7" stroke="#999" stroke-width="0.6"/>
<line x1="346.3" y1="544.8" x2="348.3" y2="544.8" stroke="#777" stroke-width="0.6"/>
<line x1="344.1" y1="545.4" x2="345.5" y2="544.2" stroke="#999" stroke-width="0.6"/>
<line x1="346.3" y1="555.6" x2="348.3" y2="555.6" stroke="#777" stroke-width="0.6"/>
<line x1="344.1" y1="556.2" x2="345.5" y2="555" stroke="#999" stroke-width="0.6"/>
<line x1="346.3" y1="566.5" x2="348.3" y2="566.5" stroke="#777" stroke-width="0.6"/>
<line x1="344.1" y1="567.1" x2="345.5" y2="565.9" stroke="#999" stroke-width="0.6"/>
<line x1="346.3" y1="571.9" x2="348.3" y2="571.9" stroke="#777" stroke-width="0.6"/>
<line x1="344.1" y1="572.5" x2="345.5" y2="571.3" stroke="#999" stroke-width="0.6"/>
<line x1="353.5" y1="577.8" x2="353.5" y2="579.6" stroke="#777" stroke-width="0.6"/>
<line x1="352.8" y1="582" x2="354.2" y2="580.8" stroke="#999" stroke-width="0.6"/>
<line x1="358.4" y1="577.8" x2="358.4" y2="579.6" stroke="#777" stroke-width="0.6"/>
<line x1="357.7" y1="582" x2="359.1" y2="580.8" stroke="#999" stroke-width="0.6"/>
<line x1="369.6" y1="577.8" x2="369.6" y2="579.6" stroke="#777" stroke-width="0.6"/>
<line x1="368.9" y1="582" x2="370.3" y2="580.8" stroke="#999" stroke-width="0.6"/>
<line x1="380.4" y1="577.8" x2="380.4" y2="579.6" stroke="#777" stroke-width="0.6"/>
<line x1="379.7" y1="582" x2="381.1" y2="580.8" stroke="#999" stroke-width="0.6"/>
<line x1="391.3" y1="577.8" x2="391.3" y2="579.6" stroke="#777" stroke-width="0.6"/>
<line x1="390.6" y1="582" x2="392" y2="580.8" stroke="#999" stroke-width="0.6"/>
<g filter="url(#bl3)"><path d="M351.5 543.1 L354.3 540.3 L358.8 541.2 L361.8 542.7 L362.8 548.2 L362.1 554.2 L362.8 560.2 L360.8 563.1 L352.7 562.3 L351.1 557.5 L350.7 549.5 Z" fill="#1e2ef4"/><path d="M351.36 564.2 L358.25 563.8 L365.05 565 L370.49 565 L374.06 568 L373.38 571.4 L365.05 571.8 L358.25 572.2 L352.04 571.8 L350.85 568 Z" fill="#1e2ef4"/><ellipse cx="364.8" cy="544.7" rx="2.4" ry="2" fill="#1e2ef4"/><ellipse cx="366.8" cy="550.2" rx="2.6" ry="1.9" fill="#1e2ef4"/><ellipse cx="363.8" cy="555.7" rx="2.2" ry="2.2" fill="#1e2ef4"/><ellipse cx="368.3" cy="558.7" rx="1.6" ry="1.2" fill="#1e2ef4"/><ellipse cx="373.3" cy="546.7" rx="0.9" ry="0.9" fill="#1e2ef4"/><ellipse cx="365.3" cy="561.7" rx="3.2" ry="1.4" fill="#1e2ef4"/><ellipse cx="369.8" cy="554.2" rx="1.2" ry="1" fill="#1e2ef4"/><ellipse cx="364.8" cy="544.7" rx="1.2" ry="1" fill="#2cc4f0"/><ellipse cx="366.8" cy="550.2" rx="1.3" ry="0.9" fill="#2cc4f0"/><ellipse cx="363.8" cy="555.7" rx="1.1" ry="1.1" fill="#2cc4f0"/><ellipse cx="356.2" cy="551" rx="5.6" ry="10.6" fill="#2cc4f0"/><ellipse cx="361.8" cy="568.2" rx="8" ry="1.6" fill="#2cc4f0"/><ellipse cx="355.8" cy="549.8" rx="4.6" ry="9.4" fill="#4ee05a"/><ellipse cx="355.5" cy="568" rx="2.7" ry="2" fill="#4ee05a"/><ellipse cx="355.4" cy="548.5" rx="2.8" ry="5.2" fill="#e6e236"/><ellipse cx="355.2" cy="548.1" rx="1.8" ry="3.4" fill="#f27a22"/><ellipse cx="355.2" cy="547.9" rx="1.1" ry="2.3" fill="#e81c1c"/></g>
<rect x="350.5" y="534.5" width="11" height="29" fill="none" stroke="#222" stroke-width="0.9"/>
<rect x="361.5" y="563.5" width="24" height="10" fill="none" stroke="#222" stroke-width="0.9"/>
<text x="362.2" y="540.5" font-size="7.4" fill="#333">68.1</text>
<text x="393.7" y="562.6" font-size="7.4" text-anchor="end" fill="#333">8.70</text>
<rect x="407.2" y="460.5" width="47.2" height="46.8" fill="#fff" stroke="#9a9a9a" stroke-width="0.8"/>
<line x1="405.2" y1="464.5" x2="407.2" y2="464.5" stroke="#777" stroke-width="0.6"/>
<line x1="403" y1="465.1" x2="404.4" y2="463.9" stroke="#999" stroke-width="0.6"/>
<line x1="405.2" y1="475" x2="407.2" y2="475" stroke="#777" stroke-width="0.6"/>
<line x1="403" y1="475.6" x2="404.4" y2="474.4" stroke="#999" stroke-width="0.6"/>
<line x1="405.2" y1="485.8" x2="407.2" y2="485.8" stroke="#777" stroke-width="0.6"/>
<line x1="403" y1="486.4" x2="404.4" y2="485.2" stroke="#999" stroke-width="0.6"/>
<line x1="405.2" y1="496.7" x2="407.2" y2="496.7" stroke="#777" stroke-width="0.6"/>
<line x1="403" y1="497.3" x2="404.4" y2="496.1" stroke="#999" stroke-width="0.6"/>
<line x1="405.2" y1="502.1" x2="407.2" y2="502.1" stroke="#777" stroke-width="0.6"/>
<line x1="403" y1="502.7" x2="404.4" y2="501.5" stroke="#999" stroke-width="0.6"/>
<line x1="412.4" y1="507.3" x2="412.4" y2="509.1" stroke="#777" stroke-width="0.6"/>
<line x1="411.7" y1="511.5" x2="413.1" y2="510.3" stroke="#999" stroke-width="0.6"/>
<line x1="417.3" y1="507.3" x2="417.3" y2="509.1" stroke="#777" stroke-width="0.6"/>
<line x1="416.6" y1="511.5" x2="418" y2="510.3" stroke="#999" stroke-width="0.6"/>
<line x1="428.5" y1="507.3" x2="428.5" y2="509.1" stroke="#777" stroke-width="0.6"/>
<line x1="427.8" y1="511.5" x2="429.2" y2="510.3" stroke="#999" stroke-width="0.6"/>
<line x1="439.3" y1="507.3" x2="439.3" y2="509.1" stroke="#777" stroke-width="0.6"/>
<line x1="438.6" y1="511.5" x2="440" y2="510.3" stroke="#999" stroke-width="0.6"/>
<line x1="450.2" y1="507.3" x2="450.2" y2="509.1" stroke="#777" stroke-width="0.6"/>
<line x1="449.5" y1="511.5" x2="450.9" y2="510.3" stroke="#999" stroke-width="0.6"/>
<g filter="url(#bl3)"><ellipse cx="413.2" cy="489" rx="2.4" ry="10.5" fill="#a0a4f6" opacity="0.8"/><ellipse cx="425.2" cy="498.5" rx="14.5" ry="3.4" fill="#989cf6" opacity="0.8"/><ellipse cx="413.2" cy="491.5" rx="1.5" ry="7.5" fill="#5c78f0" opacity="0.85"/><ellipse cx="422.7" cy="498.5" rx="10.5" ry="2" fill="#5c78f0" opacity="0.85"/><ellipse cx="413.2" cy="493.5" rx="0.8" ry="5" fill="#38c0e0"/><ellipse cx="420.2" cy="498.5" rx="7" ry="0.9" fill="#38c0e0"/><ellipse cx="413.4" cy="497.5" rx="2.2" ry="3.4" fill="#38c0e0"/><ellipse cx="413.4" cy="498" rx="1.5" ry="2.2" fill="#60d060"/><ellipse cx="413.4" cy="498.3" rx="0.8" ry="1.1" fill="#f08a30"/></g><rect x="424.03" y="496.53" width="0.8" height="0.8" fill="#8c90f4"/><rect x="429.08" y="496.46" width="0.8" height="0.8" fill="#5468ee"/><rect x="413.55" y="492.05" width="0.8" height="0.8" fill="#8c90f4"/><rect x="414.31" y="496.39" width="0.8" height="0.8" fill="#8c90f4"/><rect x="417.98" y="498.31" width="0.8" height="0.8" fill="#5468ee"/><rect x="411.72" y="491.08" width="0.8" height="0.8" fill="#8c90f4"/><rect x="414.05" y="497.85" width="0.8" height="0.8" fill="#8c90f4"/><rect x="420.08" y="499.73" width="0.8" height="0.8" fill="#5468ee"/><rect x="413.29" y="497.5" width="0.8" height="0.8" fill="#5468ee"/><rect x="411.62" y="487.62" width="0.8" height="0.8" fill="#8c90f4"/><rect x="411.77" y="493.59" width="0.8" height="0.8" fill="#8c90f4"/><rect x="415.71" y="496.65" width="0.8" height="0.8" fill="#8c90f4"/><rect x="412.34" y="492.53" width="0.8" height="0.8" fill="#8c90f4"/><rect x="420.35" y="498.08" width="0.8" height="0.8" fill="#5468ee"/><rect x="416.21" y="498.21" width="0.8" height="0.8" fill="#8c90f4"/><rect x="413.05" y="489.51" width="0.8" height="0.8" fill="#8c90f4"/><rect x="427.01" y="497.27" width="0.8" height="0.8" fill="#5468ee"/><rect x="415.63" y="499.12" width="0.8" height="0.8" fill="#a8aaf8"/><rect x="412.24" y="484.81" width="0.8" height="0.8" fill="#8c90f4"/><rect x="411.02" y="487.62" width="0.8" height="0.8" fill="#8c90f4"/><rect x="418.25" y="499.27" width="0.8" height="0.8" fill="#8c90f4"/><rect x="427.91" y="499.89" width="0.8" height="0.8" fill="#5468ee"/><rect x="422.93" y="499.56" width="0.8" height="0.8" fill="#a8aaf8"/><rect x="414.48" y="486.44" width="0.8" height="0.8" fill="#8c90f4"/><rect x="424.5" y="497.17" width="0.8" height="0.8" fill="#a8aaf8"/><rect x="420.98" y="493.11" width="0.8" height="0.8" fill="#8c90f4"/><rect x="413.7" y="498.26" width="0.8" height="0.8" fill="#5468ee"/><rect x="412.67" y="488.4" width="0.8" height="0.8" fill="#8c90f4"/><rect x="414.72" y="500.23" width="0.8" height="0.8" fill="#5468ee"/><rect x="416.69" y="497.74" width="0.8" height="0.8" fill="#a8aaf8"/><rect x="421.1" y="497.94" width="0.8" height="0.8" fill="#a8aaf8"/><rect x="418.14" y="497.9" width="0.8" height="0.8" fill="#a8aaf8"/><rect x="418.48" y="493.98" width="0.8" height="0.8" fill="#a8aaf8"/><rect x="416.83" y="497.55" width="0.8" height="0.8" fill="#8c90f4"/><rect x="411.76" y="496.2" width="0.8" height="0.8" fill="#8c90f4"/><rect x="415.58" y="487.54" width="0.8" height="0.8" fill="#8c90f4"/><rect x="414.34" y="490.88" width="0.8" height="0.8" fill="#8c90f4"/><rect x="413.13" y="501.09" width="0.8" height="0.8" fill="#a8aaf8"/><rect x="419.48" y="497.92" width="0.8" height="0.8" fill="#a8aaf8"/><rect x="417.78" y="496.03" width="0.8" height="0.8" fill="#8c90f4"/><rect x="427.4" y="498.57" width="0.8" height="0.8" fill="#5468ee"/><rect x="410.84" y="489.93" width="0.8" height="0.8" fill="#8c90f4"/><rect x="412.67" y="496.44" width="0.8" height="0.8" fill="#8c90f4"/><rect x="414.96" y="473.49" width="0.8" height="0.8" fill="#8c90f4"/><rect x="416.87" y="497.06" width="0.8" height="0.8" fill="#a8aaf8"/><rect x="423.7" y="496.97" width="0.8" height="0.8" fill="#a8aaf8"/><rect x="418.84" y="498.64" width="0.8" height="0.8" fill="#5468ee"/><rect x="412.51" y="496.71" width="0.8" height="0.8" fill="#8c90f4"/><rect x="414.94" y="499.41" width="0.8" height="0.8" fill="#8c90f4"/><rect x="419.27" y="500.99" width="0.8" height="0.8" fill="#8c90f4"/><rect x="414.57" y="496.52" width="0.8" height="0.8" fill="#5468ee"/><rect x="422.31" y="498.89" width="0.8" height="0.8" fill="#a8aaf8"/><rect x="421.59" y="497.69" width="0.8" height="0.8" fill="#5468ee"/><rect x="431.28" y="498.37" width="0.8" height="0.8" fill="#a8aaf8"/><rect x="424.02" y="499.54" width="0.8" height="0.8" fill="#a8aaf8"/><rect x="411.75" y="496.28" width="0.8" height="0.8" fill="#8c90f4"/><rect x="414.18" y="493.35" width="0.8" height="0.8" fill="#8c90f4"/><rect x="421.08" y="499.29" width="0.8" height="0.8" fill="#5468ee"/><rect x="416.73" y="501.03" width="0.8" height="0.8" fill="#8c90f4"/><rect x="413.78" y="491.94" width="0.8" height="0.8" fill="#8c90f4"/><rect x="423.4" y="498.11" width="0.8" height="0.8" fill="#8c90f4"/><rect x="412.78" y="500.21" width="0.8" height="0.8" fill="#5468ee"/><rect x="439.88" y="493.28" width="0.8" height="0.8" fill="#a8aaf8"/><rect x="422.34" y="495.04" width="0.8" height="0.8" fill="#5468ee"/><rect x="419.64" y="500.98" width="0.8" height="0.8" fill="#5468ee"/><rect x="415.94" y="497.98" width="0.8" height="0.8" fill="#8c90f4"/><rect x="409.86" y="492.33" width="0.8" height="0.8" fill="#8c90f4"/><rect x="413.25" y="489.92" width="0.8" height="0.8" fill="#8c90f4"/><rect x="415.95" y="490.17" width="0.8" height="0.8" fill="#8c90f4"/><rect x="419.7" y="499.63" width="0.8" height="0.8" fill="#a8aaf8"/><rect x="412.67" y="488.2" width="0.8" height="0.8" fill="#8c90f4"/><rect x="412.85" y="493.03" width="0.8" height="0.8" fill="#8c90f4"/><rect x="415.61" y="494.45" width="0.8" height="0.8" fill="#8c90f4"/><rect x="415.84" y="488.54" width="0.8" height="0.8" fill="#8c90f4"/><rect x="413.89" y="490.34" width="0.8" height="0.8" fill="#8c90f4"/><rect x="421.9" y="502.13" width="0.8" height="0.8" fill="#a8aaf8"/><rect x="412.59" y="493.16" width="0.8" height="0.8" fill="#8c90f4"/><rect x="416.7" y="498.79" width="0.8" height="0.8" fill="#a8aaf8"/><rect x="419.97" y="498.12" width="0.8" height="0.8" fill="#5468ee"/><rect x="422.41" y="500.81" width="0.8" height="0.8" fill="#5468ee"/><rect x="421.85" y="501.98" width="0.8" height="0.8" fill="#8c90f4"/><rect x="414.29" y="499.69" width="0.8" height="0.8" fill="#8c90f4"/><rect x="414.45" y="500.03" width="0.8" height="0.8" fill="#a8aaf8"/><rect x="421.2" y="500.1" width="0.8" height="0.8" fill="#5468ee"/><rect x="415.22" y="499.8" width="0.8" height="0.8" fill="#8c90f4"/><rect x="436.31" y="501.56" width="0.8" height="0.8" fill="#5468ee"/><rect x="431.71" y="500.45" width="0.8" height="0.8" fill="#8c90f4"/><rect x="413.84" y="499.98" width="0.8" height="0.8" fill="#a8aaf8"/><rect x="412.69" y="482.76" width="0.8" height="0.8" fill="#8c90f4"/><rect x="412.88" y="486.35" width="0.8" height="0.8" fill="#8c90f4"/><rect x="416.51" y="481.4" width="0.8" height="0.8" fill="#8c90f4"/><rect x="410.93" y="493.92" width="0.8" height="0.8" fill="#8c90f4"/><rect x="422.83" y="497.49" width="0.8" height="0.8" fill="#8c90f4"/><rect x="413.71" y="478.04" width="0.8" height="0.8" fill="#8c90f4"/><rect x="412.85" y="497.26" width="0.8" height="0.8" fill="#8c90f4"/><rect x="414.12" y="486.2" width="0.8" height="0.8" fill="#8c90f4"/><rect x="412.64" y="496.04" width="0.8" height="0.8" fill="#a8aaf8"/><rect x="419.15" y="500.86" width="0.8" height="0.8" fill="#8c90f4"/><rect x="419.55" y="498.04" width="0.8" height="0.8" fill="#a8aaf8"/><rect x="413.22" y="500.81" width="0.8" height="0.8" fill="#8c90f4"/><rect x="418.4" y="497.56" width="0.8" height="0.8" fill="#8c90f4"/><rect x="415.07" y="495.96" width="0.8" height="0.8" fill="#8c90f4"/><rect x="411.71" y="489.74" width="0.8" height="0.8" fill="#8c90f4"/><rect x="428.22" y="498.43" width="0.8" height="0.8" fill="#8c90f4"/><rect x="414.72" y="491.08" width="0.8" height="0.8" fill="#8c90f4"/><rect x="414.11" y="497.08" width="0.8" height="0.8" fill="#8c90f4"/><rect x="411.27" y="491.23" width="0.8" height="0.8" fill="#8c90f4"/><rect x="413.46" y="495.03" width="0.8" height="0.8" fill="#a8aaf8"/><rect x="419.22" y="496.57" width="0.8" height="0.8" fill="#5468ee"/><rect x="414.35" y="485.87" width="0.8" height="0.8" fill="#8c90f4"/><rect x="413.01" y="497.81" width="0.8" height="0.8" fill="#5468ee"/><rect x="417.15" y="495.54" width="0.8" height="0.8" fill="#8c90f4"/><rect x="413.26" y="485.31" width="0.8" height="0.8" fill="#8c90f4"/><rect x="413.14" y="486.58" width="0.8" height="0.8" fill="#8c90f4"/><rect x="422.47" y="498.54" width="0.8" height="0.8" fill="#a8aaf8"/><rect x="412.28" y="492.78" width="0.8" height="0.8" fill="#8c90f4"/><rect x="414.54" y="498.74" width="0.8" height="0.8" fill="#a8aaf8"/><rect x="412.92" y="497.06" width="0.8" height="0.8" fill="#5468ee"/><rect x="414.1" y="490.11" width="0.8" height="0.8" fill="#8c90f4"/><rect x="413.37" y="489.84" width="0.8" height="0.8" fill="#8c90f4"/>
<rect x="409.5" y="494.5" width="7" height="11" fill="none" stroke="#222" stroke-width="0.9"/>
<text x="415.4" y="493.5" font-size="7.4" fill="#333">32.2</text>
<rect x="407.2" y="530.3" width="47.2" height="47.5" fill="#fff" stroke="#9a9a9a" stroke-width="0.8"/>
<line x1="405.2" y1="534.3" x2="407.2" y2="534.3" stroke="#777" stroke-width="0.6"/>
<line x1="403" y1="534.9" x2="404.4" y2="533.7" stroke="#999" stroke-width="0.6"/>
<line x1="405.2" y1="544.8" x2="407.2" y2="544.8" stroke="#777" stroke-width="0.6"/>
<line x1="403" y1="545.4" x2="404.4" y2="544.2" stroke="#999" stroke-width="0.6"/>
<line x1="405.2" y1="555.6" x2="407.2" y2="555.6" stroke="#777" stroke-width="0.6"/>
<line x1="403" y1="556.2" x2="404.4" y2="555" stroke="#999" stroke-width="0.6"/>
<line x1="405.2" y1="566.5" x2="407.2" y2="566.5" stroke="#777" stroke-width="0.6"/>
<line x1="403" y1="567.1" x2="404.4" y2="565.9" stroke="#999" stroke-width="0.6"/>
<line x1="405.2" y1="571.9" x2="407.2" y2="571.9" stroke="#777" stroke-width="0.6"/>
<line x1="403" y1="572.5" x2="404.4" y2="571.3" stroke="#999" stroke-width="0.6"/>
<line x1="412.4" y1="577.8" x2="412.4" y2="579.6" stroke="#777" stroke-width="0.6"/>
<line x1="411.7" y1="582" x2="413.1" y2="580.8" stroke="#999" stroke-width="0.6"/>
<line x1="417.3" y1="577.8" x2="417.3" y2="579.6" stroke="#777" stroke-width="0.6"/>
<line x1="416.6" y1="582" x2="418" y2="580.8" stroke="#999" stroke-width="0.6"/>
<line x1="428.5" y1="577.8" x2="428.5" y2="579.6" stroke="#777" stroke-width="0.6"/>
<line x1="427.8" y1="582" x2="429.2" y2="580.8" stroke="#999" stroke-width="0.6"/>
<line x1="439.3" y1="577.8" x2="439.3" y2="579.6" stroke="#777" stroke-width="0.6"/>
<line x1="438.6" y1="582" x2="440" y2="580.8" stroke="#999" stroke-width="0.6"/>
<line x1="450.2" y1="577.8" x2="450.2" y2="579.6" stroke="#777" stroke-width="0.6"/>
<line x1="449.5" y1="582" x2="450.9" y2="580.8" stroke="#999" stroke-width="0.6"/>
<g filter="url(#bl3)"><path d="M410.4 543.1 L413.2 540.3 L419.2 541 L424.2 543.7 L427.7 547.2 L426.7 551.2 L428.2 555.7 L426.2 558.7 L423.2 561.7 L419.7 563.1 L411.6 562.3 L410 557.5 L409.6 549.5 Z" fill="#1e2ef4"/><path d="M410.8 564.2 L418.9 563.8 L426.9 565 L433.3 565 L437.5 568 L436.7 571.4 L426.9 571.8 L418.9 572.2 L411.6 571.8 L410.2 568 Z" fill="#1e2ef4"/><ellipse cx="415.1" cy="551" rx="5.6" ry="10.6" fill="#2cc4f0"/><ellipse cx="420.7" cy="549.2" rx="2.8" ry="3.5" fill="#2cc4f0"/><ellipse cx="422.2" cy="568.2" rx="9.5" ry="1.6" fill="#2cc4f0"/><ellipse cx="414.7" cy="549.8" rx="4.6" ry="9.4" fill="#4ee05a"/><ellipse cx="414.4" cy="568" rx="2.7" ry="2" fill="#4ee05a"/><ellipse cx="433.2" cy="569.2" rx="2.4" ry="1.2" fill="#4ee05a"/><ellipse cx="414.3" cy="548.5" rx="2.8" ry="5.2" fill="#e6e236"/><ellipse cx="414.1" cy="548.1" rx="1.8" ry="3.4" fill="#f27a22"/><ellipse cx="414.1" cy="547.9" rx="1.1" ry="2.3" fill="#e81c1c"/></g>
<rect x="408.5" y="534.5" width="12" height="29" fill="none" stroke="#222" stroke-width="0.9"/>
<rect x="420.5" y="563.5" width="24" height="10" fill="none" stroke="#222" stroke-width="0.9"/>
<text x="421.1" y="540.5" font-size="7.4" fill="#333">81.2</text>
<text x="452.6" y="562.6" font-size="7.4" text-anchor="end" fill="#333">8.98</text>
<line x1="414.5" y1="505.5" x2="414.5" y2="531" stroke="#e8141b" stroke-width="1.2"/>
<path d="M411.9 529.5 L414.7 535 L417.5 529.5 Z" fill="#e8141b"/>
<text x="479.2" y="433.4" font-size="16.8" font-weight="bold" fill="#000" stroke="#000" stroke-width="0.35">I</text>
<line x1="516.5" y1="459.34" x2="516.5" y2="570.35" stroke="#1a1a1a" stroke-width="1.1"/>
<line x1="513.8" y1="459.5" x2="516.8" y2="459.5" stroke="#1a1a1a" stroke-width="1.1"/>
<text x="512.5" y="463.76" font-size="10.9" text-anchor="end">30</text>
<line x1="513.8" y1="496.5" x2="516.8" y2="496.5" stroke="#1a1a1a" stroke-width="1.1"/>
<text x="512.5" y="500.43" font-size="10.9" text-anchor="end">20</text>
<line x1="513.8" y1="533.5" x2="516.8" y2="533.5" stroke="#1a1a1a" stroke-width="1.1"/>
<text x="512.5" y="537.1" font-size="10.9" text-anchor="end">10</text>
<line x1="513.8" y1="569.5" x2="516.8" y2="569.5" stroke="#1a1a1a" stroke-width="1.1"/>
<text x="512.5" y="573.77" font-size="10.9" text-anchor="end">0</text>
<line x1="516.3" y1="569.5" x2="683.4" y2="569.5" stroke="#1a1a1a" stroke-width="1.1"/>
<line x1="554.5" y1="569.85" x2="554.5" y2="572.85" stroke="#1a1a1a" stroke-width="1.1"/>
<line x1="644.5" y1="569.85" x2="644.5" y2="572.85" stroke="#1a1a1a" stroke-width="1.1"/>
<text x="495.5" y="513" font-size="12.3" text-anchor="middle" transform="rotate(-90 495.5 513)">% of cells in D6 culture</text>
<rect x="521.5" y="562.5" width="19" height="7" fill="#fff" stroke="#1a1a1a" stroke-width="1.1"/>
<line x1="531.5" y1="562.15" x2="531.5" y2="560.68" stroke="#1a1a1a" stroke-width="1.1"/>
<line x1="527" y1="560.5" x2="535" y2="560.5" stroke="#1a1a1a" stroke-width="1.1"/>
<rect x="545.5" y="558.5" width="18" height="11" fill="#fff" stroke="#1a1a1a" stroke-width="1.1"/>
<line x1="554.5" y1="558.12" x2="554.5" y2="555.55" stroke="#1a1a1a" stroke-width="1.1"/>
<line x1="550.2" y1="555.5" x2="558.2" y2="555.5" stroke="#1a1a1a" stroke-width="1.1"/>
<rect x="569.5" y="559.5" width="18" height="10" fill="#fff" stroke="#1a1a1a" stroke-width="1.1"/>
<line x1="578.5" y1="559.58" x2="578.5" y2="557.38" stroke="#1a1a1a" stroke-width="1.1"/>
<line x1="574.2" y1="557.5" x2="582.2" y2="557.5" stroke="#1a1a1a" stroke-width="1.1"/>
<rect x="611.5" y="505.5" width="18" height="64" fill="#fff" stroke="#1a1a1a" stroke-width="1.1"/>
<line x1="620.5" y1="505.86" x2="620.5" y2="499.44" stroke="#1a1a1a" stroke-width="1.1"/>
<line x1="616.5" y1="499.5" x2="624.5" y2="499.5" stroke="#1a1a1a" stroke-width="1.1"/>
<rect x="635.5" y="515.5" width="18" height="54" fill="#fff" stroke="#1a1a1a" stroke-width="1.1"/>
<line x1="644.5" y1="515.58" x2="644.5" y2="510.81" stroke="#1a1a1a" stroke-width="1.1"/>
<line x1="640.4" y1="510.5" x2="648.4" y2="510.5" stroke="#1a1a1a" stroke-width="1.1"/>
<rect x="659.5" y="500.5" width="18" height="69" fill="#fff" stroke="#1a1a1a" stroke-width="1.1"/>
<line x1="668.5" y1="500.18" x2="668.5" y2="494.31" stroke="#1a1a1a" stroke-width="1.1"/>
<line x1="664.4" y1="494.5" x2="672.4" y2="494.5" stroke="#1a1a1a" stroke-width="1.1"/>
<circle cx="526.6" cy="559.3" r="2.3" fill="#1414ff"/>
<circle cx="526.6" cy="564.7" r="2.3" fill="#1414ff"/>
<circle cx="535" cy="562.1" r="2.3" fill="#1414ff"/>
<circle cx="554.7" cy="553.2" r="2.3" fill="#ff2a1f"/>
<circle cx="554.7" cy="557" r="2.3" fill="#ff2a1f"/>
<circle cx="554.7" cy="563.4" r="2.3" fill="#ff2a1f"/>
<circle cx="573.9" cy="555.5" r="2.3" fill="#3cdc2c"/>
<circle cx="577.7" cy="563.4" r="2.3" fill="#3cdc2c"/>
<circle cx="583.6" cy="558.8" r="2.3" fill="#3cdc2c"/>
<circle cx="620.4" cy="493.7" r="2.3" fill="#1414ff"/>
<circle cx="616" cy="512" r="2.3" fill="#1414ff"/>
<circle cx="625" cy="509" r="2.3" fill="#1414ff"/>
<circle cx="644.1" cy="508.5" r="2.3" fill="#ff2a1f"/>
<circle cx="644.1" cy="513.3" r="2.3" fill="#ff2a1f"/>
<circle cx="644.1" cy="525.1" r="2.3" fill="#ff2a1f"/>
<circle cx="667.9" cy="489.3" r="2.3" fill="#3cdc2c"/>
<circle cx="663.3" cy="505.7" r="2.3" fill="#3cdc2c"/>
<circle cx="672.2" cy="503.9" r="2.3" fill="#3cdc2c"/>
<line x1="532.5" y1="547.5" x2="554" y2="547.5" stroke="#1a1a1a" stroke-width="1.8"/>
<text x="543.2" y="545.1" font-size="7.6" text-anchor="middle">N.S.</text>
<line x1="532.5" y1="535.5" x2="577" y2="535.5" stroke="#1a1a1a" stroke-width="1.8"/>
<text x="554.7" y="532.4" font-size="7.6" text-anchor="middle">N.S.</text>
<line x1="619.9" y1="487.5" x2="642.1" y2="487.5" stroke="#1a1a1a" stroke-width="1.8"/>
<text x="631" y="484.4" font-size="7.6" text-anchor="middle">N.S.</text>
<line x1="619.9" y1="474.5" x2="664.6" y2="474.5" stroke="#1a1a1a" stroke-width="1.8"/>
<text x="642.2" y="471.6" font-size="7.6" text-anchor="middle">N.S.</text>
<text x="554.7" y="584.6" font-size="11" text-anchor="middle">BFU-E</text>
<text x="644.1" y="584.6" font-size="11" text-anchor="middle">CFU-E</text>
<circle cx="525.8" cy="448.2" r="2.3" fill="#1414ff"/>
<text x="538.6" y="452" font-size="10.6">shRNA-Luciferase</text>
<circle cx="525.8" cy="460.05" r="2.3" fill="#ff2a1f"/>
<text x="538.6" y="463.85" font-size="10.6">shRNA-PIM1#1</text>
<circle cx="525.8" cy="471.9" r="2.3" fill="#3cdc2c"/>
<text x="538.6" y="475.7" font-size="10.6">shRNA-PIM1#2</text>
<text x="1.9" y="618.5" font-size="16.8" font-weight="bold" fill="#000" stroke="#000" stroke-width="0.35">J</text>
<line x1="63.5" y1="640.85" x2="63.5" y2="752" stroke="#1a1a1a" stroke-width="1.1"/>
<line x1="60.57" y1="641.5" x2="63.57" y2="641.5" stroke="#1a1a1a" stroke-width="1.1"/>
<text x="59.27" y="645.13" font-size="10.5" text-anchor="end">100</text>
<line x1="60.57" y1="663.5" x2="63.57" y2="663.5" stroke="#1a1a1a" stroke-width="1.1"/>
<text x="59.27" y="667.16" font-size="10.5" text-anchor="end">80</text>
<line x1="60.57" y1="685.5" x2="63.57" y2="685.5" stroke="#1a1a1a" stroke-width="1.1"/>
<text x="59.27" y="689.19" font-size="10.5" text-anchor="end">60</text>
<line x1="60.57" y1="707.5" x2="63.57" y2="707.5" stroke="#1a1a1a" stroke-width="1.1"/>
<text x="59.27" y="711.22" font-size="10.5" text-anchor="end">40</text>
<line x1="60.57" y1="729.5" x2="63.57" y2="729.5" stroke="#1a1a1a" stroke-width="1.1"/>
<text x="59.27" y="733.25" font-size="10.5" text-anchor="end">20</text>
<line x1="60.57" y1="751.5" x2="63.57" y2="751.5" stroke="#1a1a1a" stroke-width="1.1"/>
<text x="59.27" y="755.28" font-size="10.5" text-anchor="end">0</text>
<line x1="63.07" y1="751.5" x2="229.6" y2="751.5" stroke="#1a1a1a" stroke-width="1.1"/>
<line x1="101.5" y1="751.5" x2="101.5" y2="754.5" stroke="#1a1a1a" stroke-width="1.1"/>
<line x1="191.5" y1="751.5" x2="191.5" y2="754.5" stroke="#1a1a1a" stroke-width="1.1"/>
<text x="22" y="695.6" font-size="12.4" text-anchor="middle" transform="rotate(-90 22 695.6)">Colony number</text>
<text x="36.8" y="695.2" font-size="12.4" text-anchor="middle" transform="rotate(-90 36.8 695.2)">in 200 sorted cells</text>
<rect x="68.5" y="695.5" width="18" height="56" fill="#fff" stroke="#1a1a1a" stroke-width="1.1"/>
<line x1="77.5" y1="695.2" x2="77.5" y2="692.4" stroke="#1a1a1a" stroke-width="1.1"/>
<line x1="73.45" y1="692.5" x2="81.95" y2="692.5" stroke="#1a1a1a" stroke-width="1.1"/>
<rect x="92.5" y="696.5" width="18" height="55" fill="#fff" stroke="#1a1a1a" stroke-width="1.1"/>
<line x1="101.5" y1="696.3" x2="101.5" y2="692.5" stroke="#1a1a1a" stroke-width="1.1"/>
<line x1="97.15" y1="692.5" x2="105.65" y2="692.5" stroke="#1a1a1a" stroke-width="1.1"/>
<rect x="116.5" y="702.5" width="18" height="49" fill="#fff" stroke="#1a1a1a" stroke-width="1.1"/>
<line x1="125.5" y1="702.2" x2="125.5" y2="698.8" stroke="#1a1a1a" stroke-width="1.1"/>
<line x1="120.95" y1="698.5" x2="129.45" y2="698.5" stroke="#1a1a1a" stroke-width="1.1"/>
<rect x="158.5" y="687.5" width="19" height="64" fill="#fff" stroke="#1a1a1a" stroke-width="1.1"/>
<line x1="167.5" y1="687.3" x2="167.5" y2="684.8" stroke="#1a1a1a" stroke-width="1.1"/>
<line x1="163.65" y1="684.5" x2="172.15" y2="684.5" stroke="#1a1a1a" stroke-width="1.1"/>
<rect x="182.5" y="692.5" width="18" height="59" fill="#fff" stroke="#1a1a1a" stroke-width="1.1"/>
<line x1="191.5" y1="692.7" x2="191.5" y2="689.6" stroke="#1a1a1a" stroke-width="1.1"/>
<line x1="187.25" y1="689.5" x2="195.75" y2="689.5" stroke="#1a1a1a" stroke-width="1.1"/>
<rect x="206.5" y="696.5" width="18" height="55" fill="#fff" stroke="#1a1a1a" stroke-width="1.1"/>
<line x1="215.5" y1="696.2" x2="215.5" y2="692.7" stroke="#1a1a1a" stroke-width="1.1"/>
<line x1="210.95" y1="692.5" x2="219.45" y2="692.5" stroke="#1a1a1a" stroke-width="1.1"/>
<circle cx="77.7" cy="689.6" r="2.3" fill="#1414ff"/>
<circle cx="73.5" cy="697.4" r="2.3" fill="#1414ff"/>
<circle cx="82.3" cy="697" r="2.3" fill="#1414ff"/>
<circle cx="97" cy="690.7" r="2.3" fill="#ff2a1f"/>
<circle cx="106.1" cy="694.2" r="2.3" fill="#ff2a1f"/>
<circle cx="101.5" cy="703.3" r="2.3" fill="#ff2a1f"/>
<circle cx="125.2" cy="696.6" r="2.3" fill="#3cdc2c"/>
<circle cx="125.2" cy="701.5" r="2.3" fill="#3cdc2c"/>
<circle cx="125.2" cy="707.7" r="2.3" fill="#3cdc2c"/>
<circle cx="163.4" cy="682.8" r="2.3" fill="#1414ff"/>
<circle cx="172.1" cy="686.6" r="2.3" fill="#1414ff"/>
<circle cx="167.8" cy="690.8" r="2.3" fill="#1414ff"/>
<circle cx="186.9" cy="688.6" r="2.3" fill="#ff2a1f"/>
<circle cx="195.7" cy="690" r="2.3" fill="#ff2a1f"/>
<circle cx="191.2" cy="698.8" r="2.3" fill="#ff2a1f"/>
<circle cx="215.2" cy="690" r="2.3" fill="#3cdc2c"/>
<circle cx="219.3" cy="697.6" r="2.3" fill="#3cdc2c"/>
<circle cx="210.7" cy="700.8" r="2.3" fill="#3cdc2c"/>
<line x1="78.2" y1="683.5" x2="100.8" y2="683.5" stroke="#1a1a1a" stroke-width="1.8"/>
<text x="89.7" y="679.8" font-size="7.6" text-anchor="middle">N.S.</text>
<line x1="78.2" y1="670.5" x2="122.8" y2="670.5" stroke="#1a1a1a" stroke-width="1.8"/>
<text x="100.9" y="667" font-size="7.6" text-anchor="middle">N.S.</text>
<line x1="168" y1="677.5" x2="189.9" y2="677.5" stroke="#1a1a1a" stroke-width="1.8"/>
<text x="179" y="673.9" font-size="7.6" text-anchor="middle">N.S.</text>
<line x1="168" y1="664.5" x2="212.5" y2="664.5" stroke="#1a1a1a" stroke-width="1.8"/>
<text x="190.4" y="661.4" font-size="7.6" text-anchor="middle">N.S.</text>
<text x="101.4" y="765.4" font-size="10.4" text-anchor="middle">BFU-E</text>
<text x="191.2" y="765.4" font-size="10.4" text-anchor="middle">CFU-E</text>
<circle cx="81.3" cy="624.3" r="2.3" fill="#1414ff"/>
<text x="93.3" y="628.1" font-size="10.6">shRNA-Luciferase</text>
<circle cx="81.3" cy="636.5" r="2.3" fill="#ff2a1f"/>
<text x="93.3" y="640.3" font-size="10.6">shRNA-PIM1#1</text>
<circle cx="81.3" cy="648.7" r="2.3" fill="#3cdc2c"/>
<text x="93.3" y="652.5" font-size="10.6">shRNA-PIM1#2</text>
<text x="251.3" y="618.6" font-size="16.8" font-weight="bold" fill="#000" stroke="#000" stroke-width="0.35">K</text>
<text x="314.9" y="627.4" font-size="10.6" text-anchor="middle">shRNA-</text>
<text x="314.9" y="639.8" font-size="10.6" text-anchor="middle">Luciferase</text>
<text x="375.3" y="627.4" font-size="10.6" text-anchor="middle">shRNA-</text>
<text x="375.3" y="639.8" font-size="10.6" text-anchor="middle">PIM1#1</text>
<text x="430.8" y="627.4" font-size="10.6" text-anchor="middle">shRNA-</text>
<text x="430.8" y="639.8" font-size="10.6" text-anchor="middle">PIM1#2</text>
<text x="263.1" y="671.8" font-size="10.8">D7</text>
<text x="263.1" y="731.1" font-size="10.8">D9</text>
<line x1="282.5" y1="645" x2="282.5" y2="677.8" stroke="#1a1a1a" stroke-width="1.3"/>
<text x="285.6" y="716.6" font-size="9.3" text-anchor="middle" transform="rotate(-90 285.6 716.6)">Normalized count</text>
<text x="289.6" y="766.3" font-size="10.4">GPA</text>
<line x1="312.3" y1="762.5" x2="455" y2="762.5" stroke="#1a1a1a" stroke-width="1.6"/>
<rect x="292.6" y="645.2" width="47.2" height="46.7" fill="#fff" stroke="#a8a8a8" stroke-width="0.8"/>
<line x1="290.8" y1="691.5" x2="292.6" y2="691.5" stroke="#888" stroke-width="0.6"/>
<line x1="290.8" y1="682.5" x2="292.6" y2="682.5" stroke="#888" stroke-width="0.6"/>
<line x1="290.8" y1="673.5" x2="292.6" y2="673.5" stroke="#888" stroke-width="0.6"/>
<line x1="290.8" y1="664.5" x2="292.6" y2="664.5" stroke="#888" stroke-width="0.6"/>
<line x1="290.8" y1="655.5" x2="292.6" y2="655.5" stroke="#888" stroke-width="0.6"/>
<line x1="290.8" y1="645.5" x2="292.6" y2="645.5" stroke="#888" stroke-width="0.6"/>
<line x1="297.5" y1="691.9" x2="297.5" y2="693.7" stroke="#888" stroke-width="0.6"/>
<line x1="314.5" y1="691.9" x2="314.5" y2="693.7" stroke="#888" stroke-width="0.6"/>
<line x1="325.5" y1="691.9" x2="325.5" y2="693.7" stroke="#888" stroke-width="0.6"/>
<line x1="336.5" y1="691.9" x2="336.5" y2="693.7" stroke="#888" stroke-width="0.6"/>
<path d="M292.6 691.5 L293.77 691.5 L294.93 691.5 L296.1 691.5 L296.6 690.73 L297.1 690.39 L297.6 688.57 L297.7 687.96 L297.8 687.5 L297.9 685.94 L298 685.43 L298.1 684.61 L298.2 683.23 L298.3 682.08 L298.4 681.82 L298.5 681.25 L298.6 679.58 L298.7 678.78 L298.8 678.74 L298.9 676.82 L299 675.9 L299.1 676.28 L299.15 673.6 L299.19 673.74 L299.24 671.57 L299.28 671.3 L299.33 671.33 L299.37 670.3 L299.42 668.43 L299.46 667.72 L299.51 667.05 L299.55 665.54 L299.6 665.45 L299.65 665.29 L299.69 662.77 L299.74 661.58 L299.78 661.69 L299.83 660.6 L299.87 660.56 L299.92 658.76 L299.96 657.9 L300.01 656.93 L300.05 655.66 L300.1 655.2 L300.2 654.3 L300.3 653.4 L300.4 652.5 L300.5 651.6 L300.6 650.7 L301 651.95 L301.4 653.2 L301.47 654.14 L301.53 655.09 L301.6 656.34 L301.67 656.38 L301.73 658.45 L301.8 658.87 L301.87 660.04 L301.93 660.51 L302 661.29 L302.07 663.45 L302.13 663.8 L302.2 665.08 L302.27 665.56 L302.33 667.6 L302.4 667.53 L302.47 667.85 L302.53 669.6 L302.6 670.39 L302.74 670.06 L302.87 671.97 L303.01 673.37 L303.15 674.2 L303.28 674.59 L303.42 675.11 L303.55 676.78 L303.69 676.96 L303.83 678.98 L303.96 679.15 L304.1 679.78 L304.52 680.78 L304.93 681.5 L305.35 682.45 L305.77 683.2 L306.18 684.2 L306.6 685.31 L307.6 685.97 L308.6 685.7 L309.6 686.27 L310.6 687.01 L311.6 687.35 L312.6 687.49 L313.6 686.66 L314.6 688.47 L315.6 687.26 L316.6 688.44 L317.6 686.98 L318.6 687.12 L319.6 687.4 L320.6 687.37 L321.6 687.09 L322.6 687.73 L323.6 686.63 L324.6 687.95 L325.6 687.14 L326.6 688.11 L327.6 687.4 L328.6 687 L329.6 687.86 L330.6 688.7 L331.6 687.8 L332.6 688 L333.6 687.9 L334.6 687.81 L335.27 688.53 L335.93 688.94 L336.6 690.2 L337.6 690.85 L338.6 691.5 L339.8 691.5" fill="none" stroke="#1a1a1a" stroke-width="1.05" stroke-linejoin="round"/>
<line x1="303.1" y1="668.5" x2="339.8" y2="668.5" stroke="#222" stroke-width="1"/>
<line x1="303.5" y1="666.5" x2="303.5" y2="669.5" stroke="#1a1a1a" stroke-width="0.9"/>
<line x1="339.5" y1="666.5" x2="339.5" y2="669.5" stroke="#1a1a1a" stroke-width="0.9"/>
<text x="319.5" y="656.5" font-size="7.5" text-anchor="middle" fill="#333">53.2</text>
<rect x="292.6" y="704.7" width="47.2" height="47.2" fill="#fff" stroke="#a8a8a8" stroke-width="0.8"/>
<line x1="290.8" y1="751.5" x2="292.6" y2="751.5" stroke="#888" stroke-width="0.6"/>
<line x1="290.8" y1="742.5" x2="292.6" y2="742.5" stroke="#888" stroke-width="0.6"/>
<line x1="290.8" y1="733.5" x2="292.6" y2="733.5" stroke="#888" stroke-width="0.6"/>
<line x1="290.8" y1="724.5" x2="292.6" y2="724.5" stroke="#888" stroke-width="0.6"/>
<line x1="290.8" y1="715.5" x2="292.6" y2="715.5" stroke="#888" stroke-width="0.6"/>
<line x1="290.8" y1="705.5" x2="292.6" y2="705.5" stroke="#888" stroke-width="0.6"/>
<line x1="297.5" y1="751.9" x2="297.5" y2="753.7" stroke="#888" stroke-width="0.6"/>
<line x1="314.5" y1="751.9" x2="314.5" y2="753.7" stroke="#888" stroke-width="0.6"/>
<line x1="325.5" y1="751.9" x2="325.5" y2="753.7" stroke="#888" stroke-width="0.6"/>
<line x1="336.5" y1="751.9" x2="336.5" y2="753.7" stroke="#888" stroke-width="0.6"/>
<path d="M292.6 751.2 L293.77 751.2 L294.93 751.2 L296.1 751.2 L296.4 750.3 L296.7 749.98 L297 749.15 L297.3 747.63 L297.6 746.36 L297.7 745.28 L297.8 744.85 L297.9 743.44 L298 742.32 L298.1 742.12 L298.2 741.16 L298.3 740.41 L298.4 738.82 L298.5 738.3 L298.6 737.34 L298.7 735.76 L298.8 735.74 L298.9 734.71 L299 734.71 L299.1 732.79 L299.22 731.72 L299.33 731.42 L299.45 730.04 L299.57 729.44 L299.68 727.95 L299.8 727.3 L299.92 726.74 L300.03 725.68 L300.15 724.51 L300.27 723.05 L300.38 722.82 L300.5 721.73 L300.87 723.02 L301.23 723.8 L301.6 725.19 L301.69 725.59 L301.78 726.61 L301.87 727.73 L301.96 727.85 L302.05 729.06 L302.15 729.93 L302.24 731.95 L302.33 731.93 L302.42 733.18 L302.51 734.07 L302.6 734.57 L302.77 734.89 L302.93 736.91 L303.1 737.18 L303.27 738.58 L303.43 738.56 L303.6 739.84 L303.77 741.49 L303.93 742.46 L304.1 742.11 L304.6 742.85 L305.1 744.18 L305.6 745.28 L306.1 745.77 L306.98 746.09 L307.85 745.76 L308.73 746.71 L309.6 747.2 L310.6 746.34 L311.6 745.72 L312.6 745.86 L313.6 746.04 L314.6 744.42 L315.6 744.66 L316.2 743.45 L316.8 743.04 L317.4 742.19 L318 741.51 L318.6 741.38 L319.1 740.06 L319.6 739.63 L320.1 738.14 L320.6 737.15 L321.1 736.7 L321.6 734.42 L322.1 734.68 L322.6 733.77 L323.1 732.14 L323.6 731.91 L323.85 730.57 L324.1 728.84 L324.35 728.98 L324.6 727.76 L324.85 727.09 L325.1 726.38 L325.35 726.14 L325.6 724.75 L325.77 723.8 L325.93 723.1 L326.1 721.22 L326.27 721.7 L326.43 719.77 L326.6 719.56 L326.77 717.97 L326.93 717.15 L327.1 716.52 L327.43 716.55 L327.77 714.7 L328.1 713.7 L329.1 714.7 L330.1 713.4 L330.35 714.28 L330.6 715.48 L330.85 715.78 L331.1 716.81 L331.35 717.3 L331.6 718.68 L331.7 719.38 L331.8 720.89 L331.9 720.89 L332 722.28 L332.1 722.99 L332.2 723.98 L332.3 725.55 L332.4 726.22 L332.5 727.36 L332.6 728.57 L332.7 729.48 L332.8 729.28 L332.9 731.07 L333 730.97 L333.1 732.67 L333.22 734.49 L333.33 734.46 L333.45 735.3 L333.56 736.47 L333.68 737.32 L333.79 738.25 L333.91 738.82 L334.02 740.57 L334.14 741.41 L334.25 741.84 L334.37 743 L334.48 744.07 L334.6 745.16 L334.9 745.88 L335.2 747.01 L335.5 747.58 L335.8 748.22 L336.1 749.7 L336.85 750.45 L337.6 751.2 L338.7 751.2 L339.8 751.2" fill="none" stroke="#1a1a1a" stroke-width="1.05" stroke-linejoin="round"/>
<line x1="303.1" y1="727.5" x2="339.8" y2="727.5" stroke="#222" stroke-width="1"/>
<line x1="303.5" y1="726.3" x2="303.5" y2="729.3" stroke="#1a1a1a" stroke-width="0.9"/>
<line x1="339.5" y1="726.3" x2="339.5" y2="729.3" stroke="#1a1a1a" stroke-width="0.9"/>
<text x="319.5" y="715.6" font-size="7.5" text-anchor="middle" fill="#333">82.3</text>
<rect x="349.2" y="645.2" width="47.7" height="46.7" fill="#fff" stroke="#a8a8a8" stroke-width="0.8"/>
<line x1="347.4" y1="691.5" x2="349.2" y2="691.5" stroke="#888" stroke-width="0.6"/>
<line x1="347.4" y1="682.5" x2="349.2" y2="682.5" stroke="#888" stroke-width="0.6"/>
<line x1="347.4" y1="673.5" x2="349.2" y2="673.5" stroke="#888" stroke-width="0.6"/>
<line x1="347.4" y1="664.5" x2="349.2" y2="664.5" stroke="#888" stroke-width="0.6"/>
<line x1="347.4" y1="655.5" x2="349.2" y2="655.5" stroke="#888" stroke-width="0.6"/>
<line x1="347.4" y1="645.5" x2="349.2" y2="645.5" stroke="#888" stroke-width="0.6"/>
<line x1="354.5" y1="691.9" x2="354.5" y2="693.7" stroke="#888" stroke-width="0.6"/>
<line x1="371.5" y1="691.9" x2="371.5" y2="693.7" stroke="#888" stroke-width="0.6"/>
<line x1="381.5" y1="691.9" x2="381.5" y2="693.7" stroke="#888" stroke-width="0.6"/>
<line x1="393.5" y1="691.9" x2="393.5" y2="693.7" stroke="#888" stroke-width="0.6"/>
<path d="M349.2 691.5 L350.2 691.5 L351.2 691.5 L352.2 691.5 L353.2 691.5 L353.57 690.68 L353.95 689.42 L354.32 688.82 L354.7 687.93 L354.77 687.16 L354.85 686.72 L354.93 684.73 L355 684.45 L355.07 683.48 L355.15 682.4 L355.22 681.85 L355.3 681 L355.38 681.21 L355.45 679.34 L355.52 678.3 L355.6 677.79 L355.68 676.03 L355.75 675.33 L355.82 674.95 L355.9 673.57 L355.97 672.46 L356.05 671.74 L356.12 670.49 L356.2 670.72 L356.26 669.86 L356.32 669.56 L356.38 667.34 L356.44 666.46 L356.5 665.56 L356.56 664.98 L356.62 663.84 L356.68 663.28 L356.74 661.87 L356.8 660.46 L356.86 660.91 L356.92 659.06 L356.98 658.89 L357.04 657.31 L357.1 656.61 L357.16 654.89 L357.22 654.73 L357.28 653.82 L357.34 652.91 L357.4 652 L357.77 653.07 L358.13 654.13 L358.5 655.2 L358.57 655.7 L358.63 657.27 L358.7 658.3 L358.77 658.87 L358.83 659.99 L358.9 660.04 L358.97 661.83 L359.03 662.45 L359.1 663.23 L359.17 664.8 L359.23 665.39 L359.3 666.14 L359.37 667.3 L359.43 668.25 L359.5 669.24 L359.57 670.34 L359.63 671.06 L359.7 672.61 L359.84 673.82 L359.97 674.47 L360.11 674.77 L360.25 675.55 L360.38 676.92 L360.52 677.56 L360.65 679.18 L360.79 679.57 L360.93 680.59 L361.06 681.03 L361.2 682.27 L361.8 682.5 L362.4 683.13 L363 684.69 L363.6 684.89 L364.2 685.92 L365.2 686.79 L366.2 687.31 L367.2 686.82 L368.2 686.81 L369.2 687.54 L370.2 687.59 L371.2 687.36 L372.2 686.69 L373.2 686.82 L374.2 687.46 L375.2 686.45 L376.2 686.91 L377.2 687.37 L378.2 687.22 L379.2 686.41 L380.2 686.32 L381.2 686.1 L382.2 685.45 L383.2 685.73 L384.2 685.65 L385.2 686.64 L386.2 686.22 L387.2 686.92 L388.2 687.43 L389.2 688.22 L389.95 687.72 L390.7 689.88 L391.45 690.08 L392.2 690.7 L393.2 691.1 L394.2 691.5 L395.1 691.5 L396 691.5 L396.9 691.5" fill="none" stroke="#1a1a1a" stroke-width="1.05" stroke-linejoin="round"/>
<line x1="359.9" y1="668.5" x2="396.9" y2="668.5" stroke="#222" stroke-width="1"/>
<line x1="359.5" y1="666.5" x2="359.5" y2="669.5" stroke="#1a1a1a" stroke-width="0.9"/>
<line x1="396.5" y1="666.5" x2="396.5" y2="669.5" stroke="#1a1a1a" stroke-width="0.9"/>
<text x="377.5" y="656.5" font-size="7.5" text-anchor="middle" fill="#333">52.4</text>
<rect x="349.2" y="704.7" width="47.7" height="47.2" fill="#fff" stroke="#a8a8a8" stroke-width="0.8"/>
<line x1="347.4" y1="751.5" x2="349.2" y2="751.5" stroke="#888" stroke-width="0.6"/>
<line x1="347.4" y1="742.5" x2="349.2" y2="742.5" stroke="#888" stroke-width="0.6"/>
<line x1="347.4" y1="733.5" x2="349.2" y2="733.5" stroke="#888" stroke-width="0.6"/>
<line x1="347.4" y1="724.5" x2="349.2" y2="724.5" stroke="#888" stroke-width="0.6"/>
<line x1="347.4" y1="715.5" x2="349.2" y2="715.5" stroke="#888" stroke-width="0.6"/>
<line x1="347.4" y1="705.5" x2="349.2" y2="705.5" stroke="#888" stroke-width="0.6"/>
<line x1="354.5" y1="751.9" x2="354.5" y2="753.7" stroke="#888" stroke-width="0.6"/>
<line x1="371.5" y1="751.9" x2="371.5" y2="753.7" stroke="#888" stroke-width="0.6"/>
<line x1="381.5" y1="751.9" x2="381.5" y2="753.7" stroke="#888" stroke-width="0.6"/>
<line x1="393.5" y1="751.9" x2="393.5" y2="753.7" stroke="#888" stroke-width="0.6"/>
<path d="M349.2 751.2 L350.2 751.2 L351.2 751.2 L352.2 751.2 L353.2 751.2 L353.41 750.27 L353.63 748.79 L353.84 748.58 L354.06 747.93 L354.27 746.33 L354.49 745.03 L354.7 744.67 L354.77 744.01 L354.84 743.38 L354.9 741.43 L354.97 740.48 L355.04 740.47 L355.11 739.46 L355.18 739.03 L355.25 737.87 L355.31 736.47 L355.38 735.49 L355.45 735.86 L355.52 733.66 L355.59 732.53 L355.65 731.46 L355.72 731.11 L355.79 730.22 L355.86 729.09 L355.93 728.31 L356 727.55 L356.06 726.83 L356.13 726.1 L356.2 724.79 L356.32 722.96 L356.44 723.16 L356.56 721.27 L356.68 720.9 L356.8 719.39 L356.92 719.12 L357.04 717.84 L357.16 717.36 L357.28 717.82 L357.4 715.38 L357.72 716.85 L358.05 716.95 L358.38 718.5 L358.7 720 L358.79 720.6 L358.89 721.74 L358.98 722.56 L359.07 723 L359.17 724.64 L359.26 724.96 L359.36 727.1 L359.45 726.97 L359.54 728.45 L359.64 729.08 L359.73 730.44 L359.82 730.68 L359.92 732.34 L360.01 732.77 L360.11 734.33 L360.2 734.98 L360.45 735.64 L360.7 736.1 L360.95 737.67 L361.2 738.41 L361.45 739.81 L361.7 739.78 L361.95 741.07 L362.2 741.93 L362.95 742.45 L363.7 743.04 L364.45 743.66 L365.2 743.93 L366.2 743.58 L367.2 743.69 L368.2 743.97 L368.95 743.88 L369.7 743.14 L370.45 742.67 L371.2 742.05 L371.8 741.21 L372.4 740.18 L373 739.65 L373.6 739.3 L374.2 737.55 L374.63 736.53 L375.06 736.87 L375.49 735.24 L375.91 734.71 L376.34 733.81 L376.77 732.05 L377.2 732.8 L377.49 731.64 L377.77 730.07 L378.06 729.47 L378.34 728.33 L378.63 727.02 L378.91 726.51 L379.2 725.87 L379.6 725.3 L380 724.22 L380.4 723.03 L380.8 722.71 L381.2 720.86 L382.7 720.86 L383.45 721.6 L384.2 721.57 L384.5 721.89 L384.8 723.29 L385.1 724.81 L385.4 725.94 L385.7 727.4 L385.84 727.16 L385.97 728.52 L386.11 729.72 L386.25 730.27 L386.38 730.18 L386.52 732.52 L386.65 734.1 L386.79 734.42 L386.93 734.47 L387.06 735.61 L387.2 736.8 L387.38 738.73 L387.56 738.8 L387.75 739.48 L387.93 741.04 L388.11 741.21 L388.29 742.99 L388.47 742.76 L388.65 743.76 L388.84 745.21 L389.02 746.43 L389.2 746.99 L389.7 747.84 L390.2 747.88 L390.7 749.7 L391.2 750.7 L392.7 751.2 L393.75 751.2 L394.8 751.2 L395.85 751.2 L396.9 751.2" fill="none" stroke="#1a1a1a" stroke-width="1.05" stroke-linejoin="round"/>
<line x1="359.9" y1="727.5" x2="396.9" y2="727.5" stroke="#222" stroke-width="1"/>
<line x1="359.5" y1="726.3" x2="359.5" y2="729.3" stroke="#1a1a1a" stroke-width="0.9"/>
<line x1="396.5" y1="726.3" x2="396.5" y2="729.3" stroke="#1a1a1a" stroke-width="0.9"/>
<text x="377.5" y="715.6" font-size="7.5" text-anchor="middle" fill="#333">80.2</text>
<rect x="407.1" y="645.2" width="46.9" height="46.7" fill="#fff" stroke="#a8a8a8" stroke-width="0.8"/>
<line x1="405.3" y1="691.5" x2="407.1" y2="691.5" stroke="#888" stroke-width="0.6"/>
<line x1="405.3" y1="682.5" x2="407.1" y2="682.5" stroke="#888" stroke-width="0.6"/>
<line x1="405.3" y1="673.5" x2="407.1" y2="673.5" stroke="#888" stroke-width="0.6"/>
<line x1="405.3" y1="664.5" x2="407.1" y2="664.5" stroke="#888" stroke-width="0.6"/>
<line x1="405.3" y1="655.5" x2="407.1" y2="655.5" stroke="#888" stroke-width="0.6"/>
<line x1="405.3" y1="645.5" x2="407.1" y2="645.5" stroke="#888" stroke-width="0.6"/>
<line x1="411.5" y1="691.9" x2="411.5" y2="693.7" stroke="#888" stroke-width="0.6"/>
<line x1="428.5" y1="691.9" x2="428.5" y2="693.7" stroke="#888" stroke-width="0.6"/>
<line x1="439.5" y1="691.9" x2="439.5" y2="693.7" stroke="#888" stroke-width="0.6"/>
<line x1="451.5" y1="691.9" x2="451.5" y2="693.7" stroke="#888" stroke-width="0.6"/>
<path d="M407.1 691.5 L408.1 691.5 L409.1 691.5 L410.1 691.5 L411.1 691.5 L411.43 690.4 L411.77 689.87 L412.1 687.82 L412.18 687.4 L412.25 685.43 L412.33 685.46 L412.4 685.24 L412.48 684.45 L412.55 682.29 L412.62 681.65 L412.7 680.88 L412.78 678.88 L412.85 679.96 L412.93 678.61 L413 677.64 L413.08 676.97 L413.15 675.45 L413.23 674.8 L413.3 674.18 L413.38 673.24 L413.45 671.78 L413.53 670.53 L413.6 670.48 L413.66 669.48 L413.71 667.91 L413.77 668.01 L413.82 666.89 L413.88 665.9 L413.93 664.84 L413.99 664.15 L414.04 663.64 L414.1 661.96 L414.15 661.87 L414.21 660.42 L414.26 659.59 L414.31 659.2 L414.37 657.7 L414.43 656.9 L414.48 655.55 L414.54 654.9 L414.59 654 L414.65 653.1 L414.7 652.2 L415.1 653.2 L415.5 654.2 L415.9 655.2 L415.96 656.11 L416.02 657.07 L416.08 657.67 L416.14 658.5 L416.2 660.12 L416.26 661.09 L416.32 661.1 L416.38 662.11 L416.44 663.67 L416.5 664.73 L416.56 664.65 L416.62 665.84 L416.68 667.43 L416.74 668.69 L416.8 669.15 L416.86 669.08 L416.92 671.09 L416.98 671.39 L417.04 672.17 L417.1 673.39 L417.25 673.68 L417.4 674.66 L417.55 674.6 L417.7 677.35 L417.85 677.82 L418 678.41 L418.15 679.52 L418.3 680.38 L418.45 681.07 L418.6 681.88 L419.1 682.96 L419.6 682.9 L420.1 684.15 L420.6 685.66 L421.1 687.33 L422.1 687.01 L423.1 687.23 L424.1 687.28 L425.1 686.95 L426.1 687.27 L427.1 687.2 L428.1 686.83 L429.1 686.84 L430.1 686.87 L431.1 686.3 L432.1 685.85 L433.1 685.95 L434.1 685.55 L435.1 685.3 L436.1 685.6 L437.1 685.05 L438.1 684.83 L439.1 684.42 L440.1 683.89 L441.1 684.29 L442.1 683.99 L443.1 684.2 L444.1 684.46 L445.1 683.21 L446.1 682.9 L446.85 683.55 L447.6 684.51 L448.35 685.02 L449.1 686.74 L449.6 687.69 L450.1 687.77 L450.6 689.17 L451.1 689.98 L451.6 690.73 L452.1 691.5 L453.05 691.5 L454 691.5" fill="none" stroke="#1a1a1a" stroke-width="1.05" stroke-linejoin="round"/>
<line x1="417.8" y1="668.5" x2="454" y2="668.5" stroke="#222" stroke-width="1"/>
<line x1="417.5" y1="666.5" x2="417.5" y2="669.5" stroke="#1a1a1a" stroke-width="0.9"/>
<line x1="453.5" y1="666.5" x2="453.5" y2="669.5" stroke="#1a1a1a" stroke-width="0.9"/>
<text x="434.6" y="656.5" font-size="7.5" text-anchor="middle" fill="#333">54.3</text>
<rect x="407.1" y="704.7" width="46.9" height="47.2" fill="#fff" stroke="#a8a8a8" stroke-width="0.8"/>
<line x1="405.3" y1="751.5" x2="407.1" y2="751.5" stroke="#888" stroke-width="0.6"/>
<line x1="405.3" y1="742.5" x2="407.1" y2="742.5" stroke="#888" stroke-width="0.6"/>
<line x1="405.3" y1="733.5" x2="407.1" y2="733.5" stroke="#888" stroke-width="0.6"/>
<line x1="405.3" y1="724.5" x2="407.1" y2="724.5" stroke="#888" stroke-width="0.6"/>
<line x1="405.3" y1="715.5" x2="407.1" y2="715.5" stroke="#888" stroke-width="0.6"/>
<line x1="405.3" y1="705.5" x2="407.1" y2="705.5" stroke="#888" stroke-width="0.6"/>
<line x1="411.5" y1="751.9" x2="411.5" y2="753.7" stroke="#888" stroke-width="0.6"/>
<line x1="428.5" y1="751.9" x2="428.5" y2="753.7" stroke="#888" stroke-width="0.6"/>
<line x1="439.5" y1="751.9" x2="439.5" y2="753.7" stroke="#888" stroke-width="0.6"/>
<line x1="451.5" y1="751.9" x2="451.5" y2="753.7" stroke="#888" stroke-width="0.6"/>
<path d="M407.1 751.2 L408.1 751.2 L409.1 751.2 L410.1 751.2 L411.1 751.2 L411.31 750.27 L411.53 749.69 L411.74 749.01 L411.96 747.15 L412.17 746.17 L412.39 745.8 L412.6 745.48 L412.69 743.96 L412.79 742.34 L412.88 741.58 L412.97 740.98 L413.06 740.49 L413.16 739.14 L413.25 738.05 L413.34 737.18 L413.44 736.43 L413.53 735.1 L413.62 734.5 L413.71 733.69 L413.81 733.37 L413.9 731.69 L414.1 731.14 L414.3 729.26 L414.5 729.09 L414.7 727.79 L415.15 728.48 L415.6 729.7 L415.69 731.02 L415.78 731.39 L415.87 732.89 L415.96 734.02 L416.05 734.98 L416.15 735.88 L416.24 735.52 L416.33 737.14 L416.42 737.6 L416.51 739.22 L416.6 739.75 L416.81 740.81 L417.03 741.92 L417.24 742.45 L417.46 743.76 L417.67 744.4 L417.89 746.64 L418.1 746.51 L418.85 747.22 L419.6 746.94 L420.35 747.56 L421.1 748.35 L422.1 749.07 L423.1 749.06 L424.1 748.84 L425.1 748.43 L426.1 749.28 L427.1 747.76 L428.1 747.59 L429.1 747.93 L430.1 746.78 L431.1 746.83 L432.1 746.64 L433.1 745.69 L433.7 745.1 L434.3 744.13 L434.9 743.02 L435.5 741.11 L436.1 741.18 L436.39 740.86 L436.67 739.28 L436.96 738.9 L437.24 738.38 L437.53 738.02 L437.81 735.97 L438.1 735.48 L438.3 734.92 L438.5 734.15 L438.7 732.4 L438.9 732.94 L439.1 730.85 L439.3 730.8 L439.5 729.33 L439.7 728.7 L439.9 728.36 L440.1 727.03 L440.3 725.87 L440.5 724.47 L440.7 723.73 L440.9 722.48 L441.1 723.11 L441.3 720.63 L441.5 719.27 L441.7 720.25 L441.9 719.18 L442.1 717.56 L442.35 717.17 L442.6 715.52 L442.85 714.71 L443.1 714.03 L443.35 713.12 L443.6 712.2 L444.1 711.45 L444.6 710.7 L445.1 711.7 L445.6 712.7 L445.74 713.61 L445.87 714.52 L446.01 715.67 L446.15 716.53 L446.28 717.06 L446.42 718.89 L446.55 719.41 L446.69 720.05 L446.83 720.37 L446.96 721.87 L447.1 722.57 L447.19 723.62 L447.29 724.95 L447.38 725.27 L447.48 726.58 L447.57 727.76 L447.66 728.5 L447.76 730.3 L447.85 729.44 L447.94 731.12 L448.04 731.56 L448.13 733 L448.23 735.09 L448.32 734.17 L448.41 735.71 L448.51 737.07 L448.6 737.75 L448.74 739.03 L448.87 738.84 L449.01 740.88 L449.15 740.92 L449.28 741.71 L449.42 743.42 L449.55 744.29 L449.69 744.66 L449.83 745.53 L449.96 746.71 L450.1 747.71 L450.48 748.51 L450.85 749.01 L451.23 750.33 L451.6 751.2 L452.8 751.2 L454 751.2" fill="none" stroke="#1a1a1a" stroke-width="1.05" stroke-linejoin="round"/>
<line x1="417.8" y1="727.5" x2="454" y2="727.5" stroke="#222" stroke-width="1"/>
<line x1="417.5" y1="726.3" x2="417.5" y2="729.3" stroke="#1a1a1a" stroke-width="0.9"/>
<line x1="453.5" y1="726.3" x2="453.5" y2="729.3" stroke="#1a1a1a" stroke-width="0.9"/>
<text x="434.6" y="715.6" font-size="7.5" text-anchor="middle" fill="#333">83.8</text>
<text x="478.9" y="618.9" font-size="16.8" font-weight="bold" fill="#000" stroke="#000" stroke-width="0.35">L</text>
<line x1="516.5" y1="639.1" x2="516.5" y2="750.8" stroke="#1a1a1a" stroke-width="1.1"/>
<line x1="513.6" y1="639.5" x2="516.6" y2="639.5" stroke="#1a1a1a" stroke-width="1.1"/>
<text x="512.3" y="643.38" font-size="10.5" text-anchor="end">150</text>
<line x1="513.6" y1="676.5" x2="516.6" y2="676.5" stroke="#1a1a1a" stroke-width="1.1"/>
<text x="512.3" y="680.28" font-size="10.5" text-anchor="end">100</text>
<line x1="513.6" y1="713.5" x2="516.6" y2="713.5" stroke="#1a1a1a" stroke-width="1.1"/>
<text x="512.3" y="717.18" font-size="10.5" text-anchor="end">50</text>
<line x1="513.6" y1="750.5" x2="516.6" y2="750.5" stroke="#1a1a1a" stroke-width="1.1"/>
<text x="512.3" y="754.08" font-size="10.5" text-anchor="end">0</text>
<line x1="516.1" y1="750.5" x2="682.5" y2="750.5" stroke="#1a1a1a" stroke-width="1.1"/>
<line x1="554.5" y1="750.3" x2="554.5" y2="753.3" stroke="#1a1a1a" stroke-width="1.1"/>
<line x1="644.5" y1="750.3" x2="644.5" y2="753.3" stroke="#1a1a1a" stroke-width="1.1"/>
<text x="488.8" y="693.9" font-size="12.2" text-anchor="middle" transform="rotate(-90 488.8 693.9)">% of GPA<tspan font-size="9" dy="-5">+</tspan><tspan dy="5"> cells</tspan></text>
<rect x="521.5" y="713.5" width="18" height="37" fill="#fff" stroke="#1a1a1a" stroke-width="1.1"/>
<line x1="530.5" y1="713.4" x2="530.5" y2="711.19" stroke="#1a1a1a" stroke-width="1.1"/>
<line x1="526.7" y1="711.5" x2="534.7" y2="711.5" stroke="#1a1a1a" stroke-width="1.1"/>
<rect x="545.5" y="714.5" width="18" height="36" fill="#fff" stroke="#1a1a1a" stroke-width="1.1"/>
<line x1="554.5" y1="714.14" x2="554.5" y2="712.29" stroke="#1a1a1a" stroke-width="1.1"/>
<line x1="550.5" y1="712.5" x2="558.5" y2="712.5" stroke="#1a1a1a" stroke-width="1.1"/>
<rect x="569.5" y="715.5" width="18" height="35" fill="#fff" stroke="#1a1a1a" stroke-width="1.1"/>
<line x1="578.5" y1="715.17" x2="578.5" y2="712.66" stroke="#1a1a1a" stroke-width="1.1"/>
<line x1="574.3" y1="712.5" x2="582.3" y2="712.5" stroke="#1a1a1a" stroke-width="1.1"/>
<rect x="611.5" y="691.5" width="18" height="59" fill="#fff" stroke="#1a1a1a" stroke-width="1.1"/>
<line x1="620.5" y1="691.26" x2="620.5" y2="687.05" stroke="#1a1a1a" stroke-width="1.1"/>
<line x1="616.6" y1="687.5" x2="624.6" y2="687.5" stroke="#1a1a1a" stroke-width="1.1"/>
<rect x="635.5" y="692.5" width="18" height="58" fill="#fff" stroke="#1a1a1a" stroke-width="1.1"/>
<line x1="644.5" y1="692.74" x2="644.5" y2="689.19" stroke="#1a1a1a" stroke-width="1.1"/>
<line x1="640.4" y1="689.5" x2="648.4" y2="689.5" stroke="#1a1a1a" stroke-width="1.1"/>
<rect x="659.5" y="694.5" width="18" height="56" fill="#fff" stroke="#1a1a1a" stroke-width="1.1"/>
<line x1="668.5" y1="694.73" x2="668.5" y2="691.26" stroke="#1a1a1a" stroke-width="1.1"/>
<line x1="664.4" y1="691.5" x2="672.4" y2="691.5" stroke="#1a1a1a" stroke-width="1.1"/>
<circle cx="526.6" cy="710.2" r="2.3" fill="#1414ff"/>
<circle cx="526.6" cy="715.5" r="2.3" fill="#1414ff"/>
<circle cx="535" cy="714" r="2.3" fill="#1414ff"/>
<circle cx="547.8" cy="716" r="2.3" fill="#ff2a1f"/>
<circle cx="554" cy="712.2" r="2.3" fill="#ff2a1f"/>
<circle cx="561.6" cy="714.2" r="2.3" fill="#ff2a1f"/>
<circle cx="573.4" cy="712.7" r="2.3" fill="#3cdc2c"/>
<circle cx="577.7" cy="718.6" r="2.3" fill="#3cdc2c"/>
<circle cx="582.8" cy="713.5" r="2.3" fill="#3cdc2c"/>
<circle cx="616" cy="695.1" r="2.3" fill="#1414ff"/>
<circle cx="620.4" cy="685.9" r="2.3" fill="#1414ff"/>
<circle cx="625" cy="692.3" r="2.3" fill="#1414ff"/>
<circle cx="639.8" cy="696.1" r="2.3" fill="#ff2a1f"/>
<circle cx="644.1" cy="688.7" r="2.3" fill="#ff2a1f"/>
<circle cx="648.7" cy="693" r="2.3" fill="#ff2a1f"/>
<circle cx="663.8" cy="698.7" r="2.3" fill="#3cdc2c"/>
<circle cx="667.9" cy="690.5" r="2.3" fill="#3cdc2c"/>
<circle cx="672.2" cy="695.1" r="2.3" fill="#3cdc2c"/>
<line x1="531" y1="704.5" x2="552.7" y2="704.5" stroke="#1a1a1a" stroke-width="1.8"/>
<text x="541.9" y="701.8" font-size="7.6" text-anchor="middle">N.S.</text>
<line x1="531" y1="692.5" x2="575.7" y2="692.5" stroke="#1a1a1a" stroke-width="1.8"/>
<text x="552.9" y="688.9" font-size="7.6" text-anchor="middle">N.S.</text>
<line x1="620.6" y1="679.5" x2="642.3" y2="679.5" stroke="#1a1a1a" stroke-width="1.8"/>
<text x="631.5" y="676.6" font-size="7.6" text-anchor="middle">N.S.</text>
<line x1="620.6" y1="667.5" x2="665.3" y2="667.5" stroke="#1a1a1a" stroke-width="1.8"/>
<text x="643" y="663.9" font-size="7.6" text-anchor="middle">N.S.</text>
<text x="554.2" y="765.2" font-size="10.6" text-anchor="middle">D7</text>
<text x="643" y="765.2" font-size="10.6" text-anchor="middle">D9</text>
<circle cx="534.3" cy="623.3" r="2.3" fill="#1414ff"/>
<text x="546.5" y="627.1" font-size="10.6">shRNA-Luciferase</text>
<circle cx="534.3" cy="635.55" r="2.3" fill="#ff2a1f"/>
<text x="546.5" y="639.35" font-size="10.6">shRNA-PIM1#1</text>
<circle cx="534.3" cy="647.8" r="2.3" fill="#3cdc2c"/>
<text x="546.5" y="651.6" font-size="10.6">shRNA-PIM1#2</text>
</svg>
</body></html>
